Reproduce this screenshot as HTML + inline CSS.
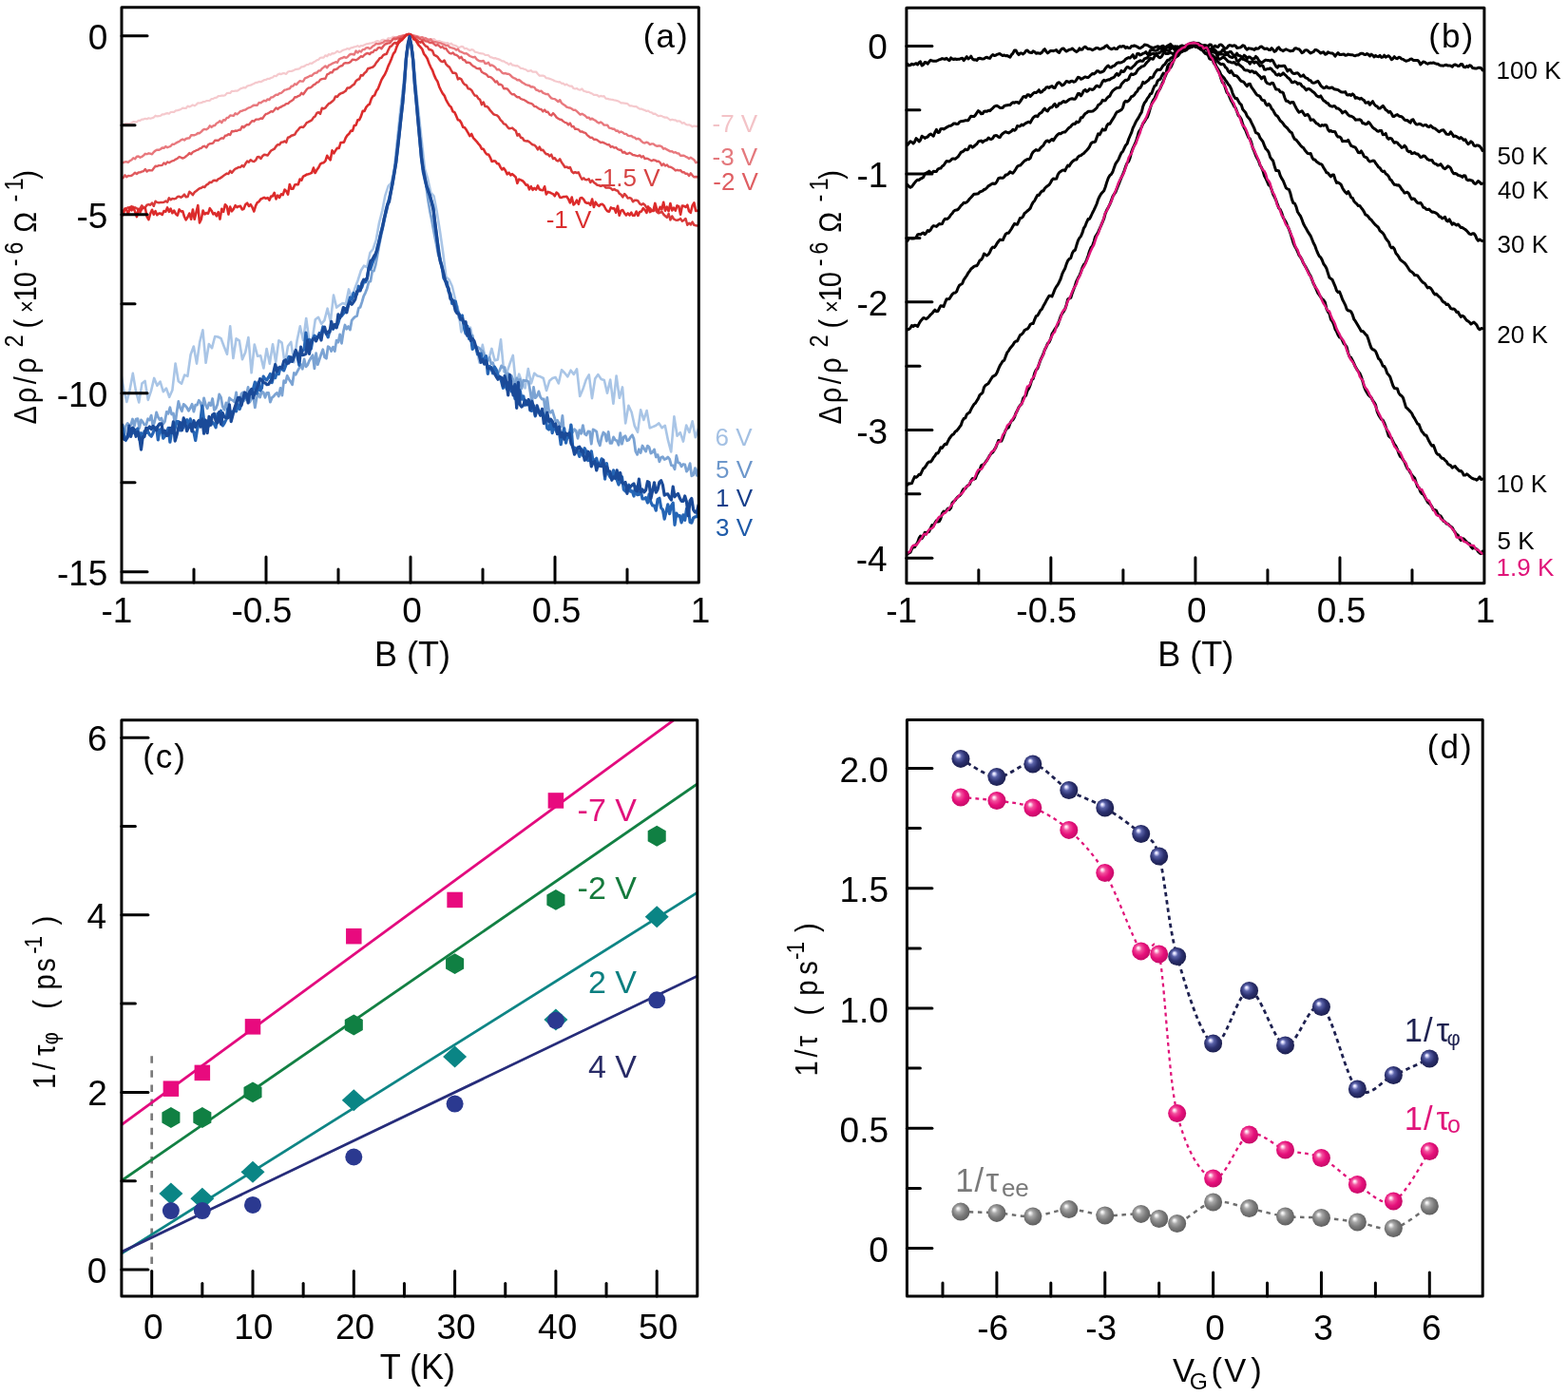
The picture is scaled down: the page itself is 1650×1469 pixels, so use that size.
<!DOCTYPE html>
<html><head><meta charset="utf-8"><title>Figure</title>
<style>html,body{margin:0;padding:0;background:#fff;overflow:hidden}svg{display:block}text{font-family:"Liberation Sans",Arial,sans-serif}</style></head>
<body><svg width="1650" height="1469" viewBox="0 0 1650 1469" font-family="Liberation Sans, Arial, sans-serif">
<rect width="1650" height="1469" fill="#fff"/>
<g id="pa">
<clipPath id="ca"><rect x="128" y="7.8" width="607.3" height="605.3000000000001"/></clipPath>
<g clip-path="url(#ca)">
<path d="M126 131 L127.8 131.3 L129.6 131.8 L131.4 130.3 L133.2 129.9 L134.9 130.2 L136.7 129.8 L138.5 129.2 L140.3 128.2 L142.1 128.4 L143.9 128.4 L145.7 126.8 L147.5 126.9 L149.2 125.6 L151 125.6 L152.8 124.8 L154.6 125.3 L156.4 124.3 L158.2 124.8 L160 124.2 L161.8 123.6 L163.6 121.7 L165.3 122.4 L167.1 122.2 L168.9 121.8 L170.7 120.3 L172.5 120.4 L174.3 119.6 L176.1 119.1 L177.9 119.7 L179.6 118 L181.4 117.9 L183.2 117.9 L185 116.4 L186.8 116.1 L188.6 115.6 L190.4 115 L192.2 113.6 L194 113.8 L195.7 114 L197.5 111.6 L199.3 112.5 L201.1 111.5 L202.9 110.4 L204.7 111.4 L206.5 110.1 L208.3 108.3 L210 108.5 L211.8 108.2 L213.6 107.2 L215.4 107.1 L217.2 106.1 L219 106 L220.8 105.8 L222.6 104 L224.4 103.9 L226.1 102.9 L227.9 102.6 L229.7 101.2 L231.5 101 L233.3 100.6 L235.1 100.7 L236.9 100.2 L238.7 98.1 L240.4 97.8 L242.2 98 L244 95.8 L245.8 96 L247.6 95.6 L249.4 95.7 L251.2 94.7 L253 93.4 L254.8 92.7 L256.5 92.1 L258.3 92.5 L260.1 90.6 L261.9 90 L263.7 89.7 L265.5 88.8 L267.3 88 L269.1 86.8 L270.8 86.8 L272.6 85.9 L274.4 86.2 L276.2 85.2 L278 84.2 L279.8 84 L281.6 82.8 L283.4 83 L285.2 81.8 L286.9 81.5 L288.7 79.8 L290.5 80.2 L292.3 78.4 L294.1 77.6 L295.9 78.1 L297.7 77.2 L299.5 77.2 L301.2 77.9 L303 75.5 L304.8 75 L306.6 74.9 L308.4 74.4 L310.2 73.4 L312 72.8 L313.8 72.7 L315.6 71.9 L317.3 70.3 L319.1 70.1 L320.9 69.4 L322.7 68 L324.5 68 L326.3 66.5 L328.1 66.8 L329.9 65.5 L331.6 64.6 L333.4 63.3 L335.2 62.8 L337 60.8 L338.8 60.5 L340.6 60.6 L342.4 58.3 L344.2 59.3 L346 57 L347.7 57.7 L349.5 56.1 L351.3 56.4 L353.1 55.4 L354.9 53.8 L356.7 54.9 L358.5 54.5 L360.3 53.1 L362 52.4 L363.8 52 L365.6 51 L367.4 51.8 L369.2 50.4 L371 50.2 L372.8 49.3 L374.6 49 L376.4 48.2 L378.1 49.3 L379.9 48 L381.7 48.3 L383.5 47.3 L385.3 46.4 L387.1 46.2 L388.9 45.6 L390.7 45.5 L392.4 44.9 L394.2 44.5 L396 43.4 L397.8 43.2 L399.6 44.3 L401.4 42.4 L403.2 41.7 L405 42.1 L406.8 42.3 L408.5 40.2 L410.3 40.5 L412.1 39.8 L413.9 38.7 L415.7 39.7 L417.5 38.9 L419.3 38.5 L421.1 37.8 L422.8 37.7 L424.6 37.1 L426.4 36.8 L428.2 36.3 L430 36 L431.8 36.5 L433.6 36.8 L435.4 37.3 L437.2 37.7 L438.9 37.9 L440.7 38.3 L442.5 39.2 L444.3 39.1 L446.1 39.6 L447.9 40.1 L449.7 41.2 L451.5 41.3 L453.2 41.4 L455 41.3 L456.8 41.1 L458.6 42.9 L460.4 43.3 L462.2 43 L464 43.8 L465.8 44.4 L467.6 44.9 L469.3 45.4 L471.1 45.1 L472.9 46.7 L474.7 45.6 L476.5 47.4 L478.3 47.7 L480.1 48.4 L481.9 49.6 L483.6 49.9 L485.4 48.9 L487.2 49.2 L489 51.3 L490.8 50.8 L492.6 52 L494.4 53.1 L496.2 52.2 L498 52.5 L499.7 54.6 L501.5 55 L503.3 55.5 L505.1 56.2 L506.9 56.3 L508.7 56.5 L510.5 57.9 L512.3 58 L514 58.2 L515.8 60.1 L517.6 60.4 L519.4 61.3 L521.2 61.1 L523 61.9 L524.8 62.4 L526.6 63.1 L528.4 64.4 L530.1 64.4 L531.9 65.7 L533.7 66.4 L535.5 68 L537.3 66.6 L539.1 68.6 L540.9 68.7 L542.7 69.4 L544.4 69.2 L546.2 70.4 L548 71.8 L549.8 72 L551.6 72.8 L553.4 73.2 L555.2 74.8 L557 74.7 L558.8 74.1 L560.5 75.7 L562.3 75.6 L564.1 75.5 L565.9 77.8 L567.7 79.6 L569.5 79.6 L571.3 79.5 L573.1 80.3 L574.8 82.2 L576.6 82.3 L578.4 82.9 L580.2 83.5 L582 84.2 L583.8 85.3 L585.6 85.8 L587.4 86.3 L589.2 86.2 L590.9 87.8 L592.7 87.7 L594.5 89.4 L596.3 88.6 L598.1 90 L599.9 90.7 L601.7 90.5 L603.5 93 L605.2 93.5 L607 93 L608.8 94.3 L610.6 94.7 L612.4 93.5 L614.2 95.8 L616 96.2 L617.8 96.9 L619.6 96.8 L621.3 97.9 L623.1 98.5 L624.9 99.9 L626.7 99.9 L628.5 100.2 L630.3 101.7 L632.1 100.9 L633.9 101.5 L635.6 101.2 L637.4 103.7 L639.2 103.9 L641 104.4 L642.8 104.7 L644.6 104.9 L646.4 105.5 L648.2 105.7 L650 106.3 L651.7 107 L653.5 108.4 L655.3 108.4 L657.1 108.6 L658.9 108.8 L660.7 109.4 L662.5 111.3 L664.3 111.3 L666 111.7 L667.8 112.1 L669.6 112.2 L671.4 113.5 L673.2 114.7 L675 114.6 L676.8 115.4 L678.6 116 L680.4 116.9 L682.1 116.5 L683.9 118 L685.7 118.3 L687.5 119.9 L689.3 119.6 L691.1 121 L692.9 122.2 L694.7 121.7 L696.4 122.1 L698.2 123.1 L700 123.6 L701.8 123.6 L703.6 125 L705.4 126.5 L707.2 125.7 L709 126.3 L710.8 126.3 L712.5 127.7 L714.3 127.3 L716.1 127.9 L717.9 129.8 L719.7 129 L721.5 130.8 L723.3 131.5 L725.1 131.3 L726.8 132 L728.6 133.3 L730.4 132.5 L732.2 132.8 L734 132.8" fill="none" stroke="#f5c9cd" stroke-width="2.2" stroke-linejoin="round" stroke-linecap="round" />
<path d="M126 172 L127.8 171.6 L129.6 171.2 L131.4 170.4 L133.2 170.3 L134.9 170.8 L136.7 169.2 L138.5 168.2 L140.3 166.2 L142.1 167.2 L143.9 164.7 L145.7 164.5 L147.5 165.7 L149.2 165 L151 163.6 L152.8 161.8 L154.6 162.2 L156.4 161.3 L158.2 161.7 L160 162.3 L161.8 160 L163.6 158.5 L165.3 157.6 L167.1 157.8 L168.9 157 L170.7 155.5 L172.5 155.8 L174.3 154.1 L176.1 155.2 L177.9 154.5 L179.6 153.8 L181.4 151.8 L183.2 151.9 L185 150.6 L186.8 149.6 L188.6 148.9 L190.4 147.4 L192.2 146.5 L194 147.5 L195.7 146 L197.5 145.5 L199.3 145.3 L201.1 142.3 L202.9 142.3 L204.7 142.2 L206.5 141.5 L208.3 140 L210 140.2 L211.8 138.7 L213.6 136.6 L215.4 135.9 L217.2 136.3 L219 135.1 L220.8 132.3 L222.6 133.9 L224.4 132.3 L226.1 132 L227.9 129.7 L229.7 128.8 L231.5 127.2 L233.3 129.2 L235.1 126.1 L236.9 126.6 L238.7 123.9 L240.4 123.7 L242.2 121.4 L244 121.6 L245.8 121.9 L247.6 119.3 L249.4 120.3 L251.2 118.9 L253 117 L254.8 116.7 L256.5 115.9 L258.3 115.5 L260.1 114.3 L261.9 113.3 L263.7 112.9 L265.5 111.6 L267.3 110.6 L269.1 110.8 L270.8 110.7 L272.6 107.9 L274.4 108.3 L276.2 106.9 L278 105.8 L279.8 106.4 L281.6 104.4 L283.4 105.1 L285.2 102.4 L286.9 102.4 L288.7 101 L290.5 99.6 L292.3 99.8 L294.1 98.2 L295.9 97.9 L297.7 96.4 L299.5 94.6 L301.2 94.4 L303 93.6 L304.8 93.3 L306.6 90.8 L308.4 90.6 L310.2 88.2 L312 89.1 L313.8 86.8 L315.6 85.2 L317.3 85.6 L319.1 85.5 L320.9 82.4 L322.7 81.7 L324.5 80.9 L326.3 79.6 L328.1 79.7 L329.9 77.7 L331.6 76.7 L333.4 76.6 L335.2 74.5 L337 74.4 L338.8 72.2 L340.6 70.9 L342.4 69.4 L344.2 71.3 L346 68.6 L347.7 68.1 L349.5 66.9 L351.3 66.2 L353.1 65.2 L354.9 65.8 L356.7 62.6 L358.5 61.4 L360.3 61 L362 59.9 L363.8 60.8 L365.6 60.1 L367.4 57.9 L369.2 56.9 L371 57 L372.8 57.6 L374.6 53.5 L376.4 55.5 L378.1 53.5 L379.9 54.5 L381.7 52.1 L383.5 52.1 L385.3 50.4 L387.1 50.1 L388.9 51.3 L390.7 50.2 L392.4 48.5 L394.2 47.4 L396 45.9 L397.8 46.4 L399.6 46 L401.4 45.3 L403.2 44.6 L405 43.1 L406.8 43.3 L408.5 42.6 L410.3 43.1 L412.1 42.9 L413.9 40.7 L415.7 39.6 L417.5 39.6 L419.3 38.7 L421.1 38.2 L422.8 38 L424.6 37.2 L426.4 37.1 L428.2 36.5 L430 36 L431.8 36.5 L433.6 36.9 L435.4 37.3 L437.2 38 L438.9 38.4 L440.7 39.3 L442.5 39.7 L444.3 39.2 L446.1 40.8 L447.9 40.2 L449.7 41.3 L451.5 42.1 L453.2 41.2 L455 43.5 L456.8 44 L458.6 44.3 L460.4 44.7 L462.2 45.3 L464 45.4 L465.8 46.5 L467.6 46.9 L469.3 48.1 L471.1 47.7 L472.9 49.5 L474.7 50.1 L476.5 50.6 L478.3 51.1 L480.1 52.6 L481.9 51.6 L483.6 54.1 L485.4 54.7 L487.2 55.5 L489 56.4 L490.8 56.3 L492.6 57.5 L494.4 59 L496.2 59.7 L498 60.3 L499.7 59.8 L501.5 62.2 L503.3 63.6 L505.1 64.3 L506.9 64.5 L508.7 63.9 L510.5 66.8 L512.3 66.8 L514 65.8 L515.8 69 L517.6 68.4 L519.4 69.5 L521.2 70.9 L523 73.4 L524.8 73 L526.6 74.4 L528.4 76.6 L530.1 77.4 L531.9 77 L533.7 77.8 L535.5 77.9 L537.3 79.3 L539.1 81.2 L540.9 82.1 L542.7 82.8 L544.4 84.4 L546.2 84 L548 85.5 L549.8 87 L551.6 87.9 L553.4 89.2 L555.2 89.6 L557 90 L558.8 91.5 L560.5 91.3 L562.3 91.8 L564.1 94.5 L565.9 95 L567.7 96.2 L569.5 95.6 L571.3 97.6 L573.1 98.4 L574.8 99.1 L576.6 98.9 L578.4 101.4 L580.2 103.4 L582 103.9 L583.8 104.1 L585.6 105.5 L587.4 107.1 L589.2 105.2 L590.9 108.3 L592.7 109.8 L594.5 110.9 L596.3 112.7 L598.1 113.2 L599.9 113.5 L601.7 114.5 L603.5 115.9 L605.2 115.8 L607 117.1 L608.8 118.8 L610.6 120.6 L612.4 119.8 L614.2 120.8 L616 122 L617.8 123.8 L619.6 123.6 L621.3 125.6 L623.1 124.6 L624.9 126 L626.7 126.9 L628.5 128.5 L630.3 129.6 L632.1 128.4 L633.9 129.7 L635.6 131.6 L637.4 131.6 L639.2 131.7 L641 134.6 L642.8 134.9 L644.6 135.7 L646.4 135.8 L648.2 137.8 L650 137.5 L651.7 139.4 L653.5 138.5 L655.3 139.3 L657.1 140.9 L658.9 140.9 L660.7 142.7 L662.5 143.1 L664.3 142.9 L666 144.3 L667.8 144.7 L669.6 146.4 L671.4 145.8 L673.2 146.6 L675 148.6 L676.8 150.1 L678.6 150.5 L680.4 149.6 L682.1 150.4 L683.9 152.1 L685.7 151.4 L687.5 151.4 L689.3 152.9 L691.1 153.8 L692.9 153.5 L694.7 153.5 L696.4 154.3 L698.2 156.7 L700 156.2 L701.8 157.4 L703.6 158.4 L705.4 159.4 L707.2 159.3 L709 160.6 L710.8 160.2 L712.5 161.3 L714.3 161.5 L716.1 163.9 L717.9 163.6 L719.7 163.8 L721.5 164.8 L723.3 165.6 L725.1 167 L726.8 165.8 L728.6 167 L730.4 168.2 L732.2 171.2 L734 170.7" fill="none" stroke="#e8787d" stroke-width="2.4" stroke-linejoin="round" stroke-linecap="round" />
<path d="M126 188.9 L127.8 187.5 L129.6 187.2 L131.4 184.3 L133.2 186.2 L134.9 185 L136.7 185.1 L138.5 184.8 L140.3 183.4 L142.1 181.7 L143.9 183 L145.7 181.5 L147.5 181.4 L149.2 180.6 L151 180.2 L152.8 177.9 L154.6 180.5 L156.4 179.1 L158.2 179.3 L160 179.4 L161.8 177.1 L163.6 174.8 L165.3 175 L167.1 174.1 L168.9 174.1 L170.7 173.9 L172.5 171.4 L174.3 172.8 L176.1 170.4 L177.9 171.3 L179.6 170.2 L181.4 169.3 L183.2 168.8 L185 167.6 L186.8 166.7 L188.6 165 L190.4 165.7 L192.2 166.6 L194 165.9 L195.7 164.5 L197.5 163.1 L199.3 161.1 L201.1 162.2 L202.9 160 L204.7 159.2 L206.5 158.2 L208.3 157.7 L210 156.4 L211.8 155.8 L213.6 154.1 L215.4 153.8 L217.2 155.3 L219 152.3 L220.8 151.3 L222.6 151.1 L224.4 150.3 L226.1 147.8 L227.9 147.7 L229.7 147.8 L231.5 146.3 L233.3 145.3 L235.1 145.7 L236.9 142.8 L238.7 142.5 L240.4 141.1 L242.2 142 L244 138 L245.8 138.3 L247.6 137.5 L249.4 137.7 L251.2 136.8 L253 136.6 L254.8 133 L256.5 134.2 L258.3 132.3 L260.1 131.1 L261.9 131.3 L263.7 129 L265.5 127.1 L267.3 127.7 L269.1 125.7 L270.8 125.6 L272.6 125.5 L274.4 124.5 L276.2 124.7 L278 122.1 L279.8 119.9 L281.6 119.6 L283.4 118.5 L285.2 117.2 L286.9 117.7 L288.7 115.7 L290.5 113.5 L292.3 114.9 L294.1 113.1 L295.9 112.5 L297.7 111.3 L299.5 110.7 L301.2 109.1 L303 109.1 L304.8 107.3 L306.6 106.2 L308.4 105.1 L310.2 102.3 L312 102.3 L313.8 101.1 L315.6 100.4 L317.3 97.8 L319.1 99.3 L320.9 96.7 L322.7 94.2 L324.5 92.5 L326.3 92.4 L328.1 91.3 L329.9 89.4 L331.6 88.7 L333.4 86.7 L335.2 86.4 L337 83.9 L338.8 83.2 L340.6 82.8 L342.4 82.9 L344.2 78.4 L346 77.6 L347.7 76.1 L349.5 76.4 L351.3 73.5 L353.1 73 L354.9 72.4 L356.7 70.5 L358.5 69.5 L360.3 69 L362 66.6 L363.8 66.3 L365.6 66.4 L367.4 66 L369.2 64.8 L371 62.6 L372.8 62.9 L374.6 63.2 L376.4 62.2 L378.1 60.8 L379.9 59.2 L381.7 59.8 L383.5 57.8 L385.3 56.5 L387.1 55.9 L388.9 57.1 L390.7 55.1 L392.4 55 L394.2 52.6 L396 52.9 L397.8 50.5 L399.6 49.9 L401.4 51.3 L403.2 48.7 L405 46.6 L406.8 46 L408.5 45.4 L410.3 45.2 L412.1 42.8 L413.9 40.8 L415.7 41.4 L417.5 40.8 L419.3 40.1 L421.1 40 L422.8 38.7 L424.6 38.2 L426.4 37 L428.2 36.7 L430 36 L431.8 36.8 L433.6 37.5 L435.4 38.2 L437.2 39.6 L438.9 39 L440.7 40.2 L442.5 41.3 L444.3 42.3 L446.1 42 L447.9 43.3 L449.7 43.5 L451.5 44.5 L453.2 45 L455 44.7 L456.8 46.4 L458.6 47.9 L460.4 47 L462.2 48.4 L464 50 L465.8 49.2 L467.6 51.2 L469.3 50.9 L471.1 53.8 L472.9 55.8 L474.7 56.5 L476.5 55.4 L478.3 57.3 L480.1 57.8 L481.9 58.9 L483.6 61.3 L485.4 59.8 L487.2 63 L489 63.2 L490.8 65.7 L492.6 65.7 L494.4 66.1 L496.2 68.1 L498 69.7 L499.7 70.3 L501.5 71.9 L503.3 72.2 L505.1 71.9 L506.9 75.8 L508.7 76.8 L510.5 77.6 L512.3 78.8 L514 80.9 L515.8 80.9 L517.6 82 L519.4 83.8 L521.2 86.4 L523 85.4 L524.8 89.1 L526.6 88.8 L528.4 89.7 L530.1 93.2 L531.9 93.2 L533.7 93.4 L535.5 95.5 L537.3 97.9 L539.1 99.4 L540.9 99.1 L542.7 101 L544.4 102.3 L546.2 102.1 L548 104 L549.8 104.7 L551.6 105.2 L553.4 106.2 L555.2 107.6 L557 108.4 L558.8 108.8 L560.5 109.8 L562.3 112.1 L564.1 112.1 L565.9 113.6 L567.7 114.7 L569.5 115 L571.3 117.4 L573.1 115.5 L574.8 117.9 L576.6 117.8 L578.4 120.7 L580.2 121.5 L582 119.1 L583.8 121 L585.6 123.5 L587.4 124.7 L589.2 125.7 L590.9 126 L592.7 127.6 L594.5 128.9 L596.3 129.3 L598.1 131.4 L599.9 129.6 L601.7 133.3 L603.5 132.9 L605.2 135.8 L607 135.8 L608.8 136.3 L610.6 138.5 L612.4 138.4 L614.2 139.4 L616 139.8 L617.8 142.1 L619.6 143.5 L621.3 144.9 L623.1 144.7 L624.9 146.7 L626.7 146.6 L628.5 147.3 L630.3 148.8 L632.1 150 L633.9 149.6 L635.6 150.4 L637.4 151.3 L639.2 152.3 L641 152.2 L642.8 154.7 L644.6 154.1 L646.4 155.6 L648.2 155.2 L650 157 L651.7 157.7 L653.5 157.7 L655.3 160.6 L657.1 159.8 L658.9 161.7 L660.7 161.7 L662.5 160.8 L664.3 161.7 L666 163.1 L667.8 163.3 L669.6 163.9 L671.4 164.2 L673.2 163.4 L675 165.4 L676.8 164.2 L678.6 167.1 L680.4 166.7 L682.1 167.2 L683.9 168.3 L685.7 169.3 L687.5 168.3 L689.3 168.6 L691.1 169.8 L692.9 169.6 L694.7 171.2 L696.4 174.1 L698.2 172.3 L700 174.5 L701.8 173.4 L703.6 175.5 L705.4 175.6 L707.2 176.5 L709 177.7 L710.8 179.5 L712.5 178.8 L714.3 179.4 L716.1 179.1 L717.9 181.2 L719.7 181.1 L721.5 182.8 L723.3 182.7 L725.1 185 L726.8 182.3 L728.6 184.6 L730.4 186.4 L732.2 186 L734 186.3" fill="none" stroke="#e05a5e" stroke-width="2.4" stroke-linejoin="round" stroke-linecap="round" />
<path d="M126 220.6 L127.8 222.2 L129.6 222 L131.4 220.3 L133.2 219.1 L134.9 218.3 L136.7 219.1 L138.5 217 L140.3 220.2 L142.1 218.3 L143.9 219.3 L145.7 220.6 L147.5 219.4 L149.2 216.3 L151 218.4 L152.8 218.3 L154.6 215.7 L156.4 215.1 L158.2 215.7 L160 213.5 L161.8 216.8 L163.6 211.7 L165.3 212.9 L167.1 213.4 L168.9 213 L170.7 213 L172.5 212.7 L174.3 211.6 L176.1 212.7 L177.9 208.3 L179.6 210.3 L181.4 208.9 L183.2 209.4 L185 208.9 L186.8 207 L188.6 206.7 L190.4 207.8 L192.2 206.6 L194 204.7 L195.7 207.3 L197.5 207 L199.3 201.8 L201.1 203.2 L202.9 205.2 L204.7 202.3 L206.5 200.9 L208.3 199.5 L210 198.2 L211.8 197.7 L213.6 196.4 L215.4 197 L217.2 194.6 L219 193.6 L220.8 191.7 L222.6 192 L224.4 190 L226.1 189.8 L227.9 190.3 L229.7 188.4 L231.5 187.6 L233.3 186.4 L235.1 185 L236.9 183.8 L238.7 182.6 L240.4 183 L242.2 179.8 L244 181.8 L245.8 179.4 L247.6 177.6 L249.4 177 L251.2 175.9 L253 176 L254.8 174.1 L256.5 175.5 L258.3 172.3 L260.1 169.6 L261.9 170.6 L263.7 168.2 L265.5 169.6 L267.3 170 L269.1 168.6 L270.8 165.2 L272.6 165 L274.4 167 L276.2 164.2 L278 162.8 L279.8 163 L281.6 163.6 L283.4 161 L285.2 158.5 L286.9 157.6 L288.7 156.7 L290.5 154 L292.3 152.2 L294.1 152.3 L295.9 149.8 L297.7 149.6 L299.5 148.5 L301.2 149.9 L303 144.7 L304.8 144.3 L306.6 142.8 L308.4 142.2 L310.2 141.6 L312 138.3 L313.8 136.6 L315.6 134.2 L317.3 133.6 L319.1 134 L320.9 131.9 L322.7 129.2 L324.5 128.4 L326.3 127.4 L328.1 126.4 L329.9 123.6 L331.6 122.4 L333.4 119 L335.2 118.2 L337 119.9 L338.8 113.8 L340.6 114.4 L342.4 113.4 L344.2 111.1 L346 109 L347.7 108.3 L349.5 106.8 L351.3 105.1 L353.1 101.4 L354.9 101.9 L356.7 99.6 L358.5 98.4 L360.3 97.8 L362 96.8 L363.8 95.6 L365.6 92.4 L367.4 92.6 L369.2 91.4 L371 89.8 L372.8 88.6 L374.6 85.2 L376.4 83.7 L378.1 83.3 L379.9 79.1 L381.7 79.5 L383.5 77 L385.3 75.6 L387.1 72.3 L388.9 71.7 L390.7 71.1 L392.4 70.5 L394.2 68.9 L396 65.8 L397.8 63.9 L399.6 61.2 L401.4 60.8 L403.2 58.1 L405 57.2 L406.8 56.7 L408.5 52.8 L410.3 49.2 L412.1 48.3 L413.9 46 L415.7 44.9 L417.5 46.1 L419.3 43.6 L421.1 41 L422.8 41.1 L424.6 40 L426.4 38.2 L428.2 37 L430 36 L431.8 37.1 L433.6 38.3 L435.4 39.7 L437.2 41 L438.9 42.3 L440.7 43.9 L442.5 44.7 L444.3 43.6 L446.1 46.5 L447.9 48.5 L449.7 49.1 L451.5 52.2 L453.2 52.3 L455 53.3 L456.8 57.8 L458.6 58.6 L460.4 59.8 L462.2 62.4 L464 64.3 L465.8 65.1 L467.6 63.5 L469.3 67.4 L471.1 69.4 L472.9 70.6 L474.7 73.8 L476.5 76.8 L478.3 76.7 L480.1 77.7 L481.9 83.4 L483.6 82.3 L485.4 83.3 L487.2 86.9 L489 89 L490.8 89.6 L492.6 93.3 L494.4 93.6 L496.2 94.9 L498 98.1 L499.7 100.6 L501.5 100.7 L503.3 103.7 L505.1 104.9 L506.9 110.1 L508.7 107.6 L510.5 111.9 L512.3 111.9 L514 113.5 L515.8 116.2 L517.6 118.1 L519.4 120.3 L521.2 120.9 L523 121.4 L524.8 123.2 L526.6 126.1 L528.4 127.8 L530.1 130.4 L531.9 130.8 L533.7 133.1 L535.5 135.2 L537.3 135.1 L539.1 134.6 L540.9 136.4 L542.7 137.5 L544.4 142.6 L546.2 141 L548 144.8 L549.8 145.3 L551.6 148 L553.4 148.4 L555.2 148.3 L557 149.4 L558.8 150.9 L560.5 152.2 L562.3 152.6 L564.1 154.3 L565.9 157.4 L567.7 154.6 L569.5 158.1 L571.3 157.8 L573.1 160.3 L574.8 162.2 L576.6 162.3 L578.4 164.4 L580.2 162.7 L582 167.1 L583.8 166.2 L585.6 168.9 L587.4 169.5 L589.2 167.4 L590.9 170.8 L592.7 173.2 L594.5 176 L596.3 175.6 L598.1 176.8 L599.9 176 L601.7 180.5 L603.5 182.2 L605.2 181.2 L607 182 L608.8 181.4 L610.6 185.5 L612.4 188.7 L614.2 187.4 L616 189.1 L617.8 189.2 L619.6 188.3 L621.3 192 L623.1 189.8 L624.9 191.9 L626.7 193.3 L628.5 194.8 L630.3 195 L632.1 195.8 L633.9 195.2 L635.6 195.3 L637.4 197.6 L639.2 197.4 L641 197.4 L642.8 198.2 L644.6 199.9 L646.4 199 L648.2 200.3 L650 200.7 L651.7 203.6 L653.5 204.7 L655.3 207.4 L657.1 204 L658.9 205.8 L660.7 208.6 L662.5 208.1 L664.3 208.9 L666 212.3 L667.8 210.7 L669.6 210.7 L671.4 211.5 L673.2 214.4 L675 215.4 L676.8 214.3 L678.6 215.7 L680.4 218.5 L682.1 219.5 L683.9 218.9 L685.7 221.3 L687.5 222.1 L689.3 220.1 L691.1 222.7 L692.9 224.3 L694.7 223.8 L696.4 222.6 L698.2 225.5 L700 227.3 L701.8 228.9 L703.6 225 L705.4 231.4 L707.2 227.5 L709 230.5 L710.8 231.4 L712.5 231.7 L714.3 231.2 L716.1 230.1 L717.9 232.8 L719.7 231.7 L721.5 230 L723.3 236.8 L725.1 234.7 L726.8 236.5 L728.6 233.6 L730.4 236.8 L732.2 237.3 L734 237.6" fill="none" stroke="#d93a3a" stroke-width="2.5" stroke-linejoin="round" stroke-linecap="round" />
<path d="M126 226.4 L127.8 221.9 L129.6 226.2 L131.4 219.5 L133.2 221.1 L134.9 225.3 L136.7 218.1 L138.5 221.4 L140.3 217.9 L142.1 222.9 L143.9 228.1 L145.7 220.1 L147.5 223.5 L149.2 219.7 L151 218.9 L152.8 218.7 L154.6 227.9 L156.4 231.1 L158.2 224.8 L160 220.8 L161.8 225.7 L163.6 222.2 L165.3 226.2 L167.1 224.6 L168.9 224.6 L170.7 225.9 L172.5 222 L174.3 222.7 L176.1 218.4 L177.9 222.8 L179.6 219.7 L181.4 224.2 L183.2 221.5 L185 225.3 L186.8 226.6 L188.6 220.4 L190.4 222.5 L192.2 222.2 L194 228 L195.7 231.4 L197.5 228.5 L199.3 224.5 L201.1 230.7 L202.9 220.5 L204.7 230.8 L206.5 223.4 L208.3 216.1 L210 234.4 L211.8 230.6 L213.6 221.6 L215.4 225.5 L217.2 224 L219 224.8 L220.8 219.2 L222.6 221.7 L224.4 225.3 L226.1 224.2 L227.9 227.3 L229.7 223.2 L231.5 230.6 L233.3 219.9 L235.1 222.9 L236.9 215.2 L238.7 217.2 L240.4 225.6 L242.2 217.6 L244 222.3 L245.8 219.9 L247.6 216.2 L249.4 218.2 L251.2 217.2 L253 216.9 L254.8 220.5 L256.5 219.7 L258.3 215.2 L260.1 213.7 L261.9 217 L263.7 215.2 L265.5 218.2 L267.3 222.5 L269.1 216.4 L270.8 213.1 L272.6 212.1 L274.4 209.5 L276.2 208.7 L278 207.8 L279.8 208.9 L281.6 208.1 L283.4 210.6 L285.2 206.6 L286.9 206.4 L288.7 202.8 L290.5 209.5 L292.3 205.6 L294.1 207.9 L295.9 204.3 L297.7 205.1 L299.5 199.6 L301.2 201 L303 204.7 L304.8 194 L306.6 198.7 L308.4 198.7 L310.2 194.5 L312 194.1 L313.8 194.1 L315.6 188.5 L317.3 189.7 L319.1 185.6 L320.9 184.8 L322.7 183.6 L324.5 183.3 L326.3 182.6 L328.1 181.8 L329.9 176.6 L331.6 182 L333.4 178.8 L335.2 176.4 L337 172.7 L338.8 171.6 L340.6 171.2 L342.4 169.3 L344.2 163.8 L346 166.4 L347.7 168.3 L349.5 158.4 L351.3 161.3 L353.1 158.4 L354.9 155.7 L356.7 156 L358.5 150 L360.3 149.9 L362 149.6 L363.8 145 L365.6 142.3 L367.4 140.7 L369.2 137.6 L371 137.7 L372.8 132 L374.6 131.7 L376.4 126.4 L378.1 126.1 L379.9 122.4 L381.7 116.8 L383.5 116.9 L385.3 112.9 L387.1 110.7 L388.9 109.7 L390.7 104.1 L392.4 101.1 L394.2 100.3 L396 95.7 L397.8 93.4 L399.6 88.8 L401.4 84.1 L403.2 81 L405 78.3 L406.8 74.2 L408.5 69.6 L410.3 65.8 L412.1 61.4 L413.9 56.6 L415.7 54.4 L417.5 49.1 L419.3 45.3 L421.1 43.5 L422.8 42.3 L424.6 40.2 L426.4 37.9 L428.2 36.2 L430 36 L431.8 36 L433.6 37.8 L435.4 41.3 L437.2 42.1 L438.9 44.8 L440.7 47.7 L442.5 49.6 L444.3 51.8 L446.1 56.7 L447.9 58.9 L449.7 61.8 L451.5 66.7 L453.2 70.6 L455 73.8 L456.8 78.9 L458.6 82.9 L460.4 85.7 L462.2 91.2 L464 95 L465.8 98.4 L467.6 100.6 L469.3 104.8 L471.1 108.1 L472.9 111.1 L474.7 112.7 L476.5 117.3 L478.3 118.1 L480.1 121.9 L481.9 126.2 L483.6 126.5 L485.4 129.3 L487.2 133.7 L489 134.3 L490.8 136.8 L492.6 139.8 L494.4 143.2 L496.2 141 L498 145.1 L499.7 146.9 L501.5 148.8 L503.3 151.1 L505.1 153.1 L506.9 156.7 L508.7 156.8 L510.5 160.2 L512.3 162.5 L514 162.5 L515.8 165.6 L517.6 169.9 L519.4 169.4 L521.2 169.5 L523 172.1 L524.8 172.2 L526.6 175.9 L528.4 178.5 L530.1 176.9 L531.9 179.5 L533.7 183.4 L535.5 181.7 L537.3 184.3 L539.1 183.1 L540.9 184.7 L542.7 186.4 L544.4 192.8 L546.2 188.6 L548 189.4 L549.8 190.2 L551.6 192 L553.4 194.6 L555.2 194.5 L557 199.4 L558.8 196.2 L560.5 199.8 L562.3 197.9 L564.1 199.5 L565.9 195.4 L567.7 199.2 L569.5 200 L571.3 200.3 L573.1 196.3 L574.8 204.4 L576.6 201.9 L578.4 202.4 L580.2 203.4 L582 204.1 L583.8 206.3 L585.6 202.6 L587.4 204 L589.2 207.8 L590.9 207.9 L592.7 207.1 L594.5 207 L596.3 206.8 L598.1 209.4 L599.9 213.4 L601.7 207.6 L603.5 215.4 L605.2 214 L607 210.7 L608.8 214.8 L610.6 208.5 L612.4 208.1 L614.2 209.9 L616 213 L617.8 213.7 L619.6 213.5 L621.3 215.8 L623.1 209.6 L624.9 218 L626.7 212.7 L628.5 215.5 L630.3 216.8 L632.1 215 L633.9 214.9 L635.6 216.5 L637.4 220 L639.2 222.3 L641 222.7 L642.8 218.4 L644.6 219.4 L646.4 219.4 L648.2 223.8 L650 216.7 L651.7 226.7 L653.5 221.7 L655.3 221 L657.1 224.4 L658.9 226.5 L660.7 224.4 L662.5 226.5 L664.3 223.6 L666 226.8 L667.8 226.7 L669.6 222.5 L671.4 226.9 L673.2 222.9 L675 222.5 L676.8 219.2 L678.6 220.9 L680.4 223.9 L682.1 217.4 L683.9 223.1 L685.7 222 L687.5 221.5 L689.3 213.9 L691.1 220.1 L692.9 222.2 L694.7 217.8 L696.4 220.2 L698.2 212.7 L700 221.8 L701.8 217.7 L703.6 222.2 L705.4 214 L707.2 221.5 L709 218.6 L710.8 221.7 L712.5 216.4 L714.3 217.2 L716.1 225.7 L717.9 216.5 L719.7 216.8 L721.5 218 L723.3 215.7 L725.1 222.3 L726.8 223.8 L728.6 216.5 L730.4 213.4 L732.2 222 L734 221.8" fill="none" stroke="#dc2b2b" stroke-width="2.6" stroke-linejoin="round" stroke-linecap="round" />
<path d="M127 391.3 L130.2 409.7 L133.4 422.9 L136.6 410.2 L139.8 392.9 L143 411.6 L146.2 423.5 L149.4 403.6 L152.6 400.9 L155.8 420.9 L159 411.4 L162.2 397.9 L165.4 405.8 L168.6 401.6 L171.8 412.2 L175 408.6 L178.2 417.8 L181.4 410.4 L184.6 382.5 L187.8 401.3 L191 403.7 L194.2 394.6 L197.4 395.8 L200.6 373.3 L203.8 364.5 L207 382.6 L210.2 359.9 L213.4 347.3 L216.6 381.8 L219.8 362.1 L223 366.3 L226.2 354 L229.4 354.5 L232.6 356.2 L235.8 364.8 L239 372.7 L242.2 343.3 L245.4 377 L248.6 356.3 L251.8 358.3 L255 378.3 L258.2 370.7 L261.4 355.1 L264.6 392.3 L267.8 362.5 L271 374.7 L274.2 374.2 L277.4 387.5 L280.6 367 L283.8 382.7 L287 362.3 L290.2 381.1 L293.4 358.3 L296.6 360.6 L299.8 383.5 L303 364.3 L306.2 359.9 L309.4 381.2 L312.6 358.3 L315.8 343.2 L319 358.1 L322.2 335 L325.4 358.5 L328.6 357.5 L331.8 336.2 L335 333.8 L338.2 340.8 L341.4 337.1 L344.6 324.7 L347.8 338.4 L351 310.6 L354.2 323.6 L357.4 321 L360.6 319 L363.8 320.3 L367 304.4 L370.2 313.9 L373.4 303.4 L376.6 295 L379.8 284.8 L383 279.7 L386.2 281.1 L389.4 266 L392.6 262 L395.8 252.3 L399 234.5 L402.2 222 L405.4 205.6 L408.6 195.9 L411.8 192.4 L415 176.2 L418.2 145.4 L421.4 114.8 L424.6 91.5 L427.8 55.8 L431 40.6 L434.2 55.3 L437.4 90.1 L440.6 119 L443.8 148.9 L447 177.9 L450.2 188.5 L453.4 203 L456.6 206.4 L459.8 223.5 L463 243.5 L466.2 265.7 L469.4 291.5 L472.6 294.3 L475.8 301.2 L479 314.8 L482.2 326 L485.4 349.4 L488.6 342.8 L491.8 354 L495 344.7 L498.2 360.1 L501.4 367.4 L504.6 381.7 L507.8 362.9 L511 378.3 L514.2 378.3 L517.4 366.9 L520.6 379.3 L523.8 378.4 L527 357.4 L530.2 391.1 L533.4 391.9 L536.6 382.5 L539.8 373.9 L543 406 L546.2 393.7 L549.4 403 L552.6 408.3 L555.8 388 L559 403.5 L562.2 392.8 L565.4 395.6 L568.6 396.3 L571.8 398 L575 411 L578.2 400.8 L581.4 398.1 L584.6 397 L587.8 403.5 L591 389.2 L594.2 392.5 L597.4 396.3 L600.6 389.7 L603.8 393.9 L607 388.3 L610.2 417 L613.4 409.6 L616.6 399.9 L619.8 394.4 L623 419.1 L626.2 398.6 L629.4 394.1 L632.6 399 L635.8 400 L639 413.6 L642.2 399.6 L645.4 424.8 L648.6 395.5 L651.8 418.8 L655 407.4 L658.2 445.4 L661.4 426.9 L664.6 433.8 L667.8 448.1 L671 454.8 L674.2 431.4 L677.4 441.9 L680.6 432.1 L683.8 450.4 L687 449.1 L690.2 447.7 L693.4 445.4 L696.6 450.2 L699.8 447.8 L703 463.4 L706.2 475.5 L709.4 438.4 L712.6 458.7 L715.8 455.2 L719 464.6 L722.2 447.6 L725.4 455 L728.6 443.3 L731.8 460.2 L735 450.9" fill="none" stroke="#a9c5e6" stroke-width="2.6" stroke-linejoin="round" stroke-linecap="round" />
<path d="M127 450.7 L128.8 461.5 L130.6 460.1 L132.4 448.4 L134.2 445.4 L135.9 447.3 L137.7 447.2 L139.5 441 L141.3 448.3 L143.1 441 L144.9 440.6 L146.7 450.5 L148.5 441.8 L150.2 444.1 L152 446.9 L153.8 447.2 L155.6 440.8 L157.4 442 L159.2 437.1 L161 449.3 L162.8 443.2 L164.6 433.9 L166.3 438.8 L168.1 441.8 L169.9 440.1 L171.7 446.3 L173.5 443.5 L175.3 433.5 L177.1 435.2 L178.9 428.8 L180.6 436 L182.4 435 L184.2 447.3 L186 433.9 L187.8 422.5 L189.6 429.2 L191.4 432.7 L193.2 425.4 L195 426.9 L196.7 429 L198.5 432.2 L200.3 429.2 L202.1 425.2 L203.9 433.2 L205.7 426.2 L207.5 426 L209.3 421.2 L211 423.7 L212.8 430.6 L214.6 418.8 L216.4 426.2 L218.2 429.8 L220 423.9 L221.8 426.6 L223.6 419.5 L225.4 431.3 L227.1 429.9 L228.9 425.2 L230.7 414.9 L232.5 418.1 L234.3 427.9 L236.1 431.3 L237.9 423.9 L239.7 428.3 L241.4 418.7 L243.2 420.5 L245 421.2 L246.8 423 L248.6 413 L250.4 425.1 L252.2 426.8 L254 414.3 L255.8 413 L257.5 421.4 L259.3 416.1 L261.1 407.4 L262.9 423 L264.7 419.6 L266.5 416.2 L268.3 428.9 L270.1 418.8 L271.8 414 L273.6 418 L275.4 412 L277.2 413 L279 418.4 L280.8 413.3 L282.6 413.3 L284.4 423.2 L286.2 418.4 L287.9 417.2 L289.7 414.8 L291.5 413.4 L293.3 417 L295.1 408.3 L296.9 416.2 L298.7 400.7 L300.5 402.6 L302.2 395.4 L304 399 L305.8 401.6 L307.6 404.7 L309.4 392.4 L311.2 394.2 L313 390.7 L314.8 387.3 L316.6 383.5 L318.3 388.3 L320.1 378 L321.9 385.9 L323.7 384.1 L325.5 379.5 L327.3 376.6 L329.1 373.6 L330.9 387.9 L332.6 371.6 L334.4 383.7 L336.2 378 L338 372.5 L339.8 367.7 L341.6 375.9 L343.4 377.2 L345.2 364.7 L347 365.9 L348.7 369.6 L350.5 365.1 L352.3 369.6 L354.1 358.1 L355.9 360.2 L357.7 351.8 L359.5 361.3 L361.3 349.2 L363 342 L364.8 346.3 L366.6 343.6 L368.4 347 L370.2 337.1 L372 334.9 L373.8 333.3 L375.6 332.5 L377.4 324.3 L379.1 323.3 L380.9 317.9 L382.7 311.6 L384.5 308.1 L386.3 303.4 L388.1 296.5 L389.9 296.1 L391.7 285.4 L393.4 285.1 L395.2 278.9 L397 269.5 L398.8 259.2 L400.6 250.2 L402.4 241.8 L404.2 233.7 L406 225 L407.8 218.2 L409.5 208.2 L411.3 200.6 L413.1 189.1 L414.9 180.7 L416.7 166 L418.5 148.5 L420.3 132.6 L422.1 116.3 L423.8 97.3 L425.6 80.2 L427.4 58 L429.2 48 L431 42 L432.8 46.4 L434.6 59.5 L436.4 79.5 L438.2 101.6 L439.9 120.7 L441.7 139.7 L443.5 155.6 L445.3 174.5 L447.1 185.5 L448.9 199.2 L450.7 212 L452.5 222.6 L454.2 230.8 L456 240.8 L457.8 250.2 L459.6 259.2 L461.4 269 L463.2 271.9 L465 281.6 L466.8 288.2 L468.6 294.1 L470.3 299.6 L472.1 307.3 L473.9 310.2 L475.7 316 L477.5 319.9 L479.3 327.3 L481.1 322.3 L482.9 334.3 L484.6 334 L486.4 337.5 L488.2 338.9 L490 339.6 L491.8 347.2 L493.6 349.5 L495.4 356.2 L497.2 352.9 L499 365.4 L500.7 364.4 L502.5 365.3 L504.3 366.2 L506.1 368.4 L507.9 369.5 L509.7 373.9 L511.5 378.1 L513.3 379.4 L515 376.3 L516.8 382.7 L518.6 381.7 L520.4 387.7 L522.2 396.5 L524 392.6 L525.8 389.7 L527.6 384.9 L529.4 386.9 L531.1 386.6 L532.9 399.1 L534.7 392.9 L536.5 398 L538.3 395.5 L540.1 400 L541.9 407.5 L543.7 398 L545.4 400.7 L547.2 399.3 L549 408.7 L550.8 400.2 L552.6 400.7 L554.4 400.6 L556.2 401.6 L558 412.2 L559.8 424 L561.5 407.5 L563.3 418.7 L565.1 416.8 L566.9 411.9 L568.7 417.9 L570.5 420.2 L572.3 420 L574.1 435.3 L575.8 418.4 L577.6 432.1 L579.4 434.2 L581.2 431.9 L583 437.9 L584.8 443.8 L586.6 442.3 L588.4 445.8 L590.2 449.1 L591.9 437.4 L593.7 456.7 L595.5 462.3 L597.3 457.2 L599.1 458.6 L600.9 447.5 L602.7 454.8 L604.5 451.8 L606.2 453.3 L608 461.3 L609.8 452.7 L611.6 456.3 L613.4 447.6 L615.2 456.5 L617 457.9 L618.8 454 L620.6 454.1 L622.3 467.2 L624.1 451.9 L625.9 452.8 L627.7 454.1 L629.5 464.2 L631.3 468.8 L633.1 460.1 L634.9 455 L636.6 456.5 L638.4 464.1 L640.2 454.4 L642 466.4 L643.8 466.4 L645.6 459.9 L647.4 463 L649.2 463.8 L651 468.2 L652.7 455.6 L654.5 467.2 L656.3 460 L658.1 458.7 L659.9 463.8 L661.7 463 L663.5 459.9 L665.3 457.8 L667 461.9 L668.8 474.8 L670.6 478.4 L672.4 472.8 L674.2 476.5 L676 469 L677.8 472.2 L679.6 475 L681.4 469.1 L683.1 470.6 L684.9 477 L686.7 475.8 L688.5 473 L690.3 481 L692.1 478.6 L693.9 485.8 L695.7 481.4 L697.4 480.7 L699.2 483.5 L701 482.8 L702.8 481 L704.6 483.1 L706.4 489.6 L708.2 489.8 L710 493.7 L711.8 479.5 L713.5 486.7 L715.3 487.3 L717.1 490.9 L718.9 488.5 L720.7 488.9 L722.5 496.1 L724.3 493.7 L726.1 487.7 L727.8 500.8 L729.6 499.8 L731.4 492.6 L733.2 500.3 L735 493.1" fill="none" stroke="#7ba3d3" stroke-width="2.8" stroke-linejoin="round" stroke-linecap="round" />
<path d="M127 458.2 L128.8 447.1 L130.6 458.7 L132.4 463.5 L134.2 458.6 L135.9 454.8 L137.7 455.8 L139.5 455.9 L141.3 453.4 L143.1 453.1 L144.9 451 L146.7 462.5 L148.5 455.7 L150.2 460.8 L152 454 L153.8 455.6 L155.6 454.1 L157.4 457.4 L159.2 459.2 L161 455.7 L162.8 450.5 L164.6 449.7 L166.3 462.9 L168.1 452 L169.9 451.7 L171.7 461.2 L173.5 458.9 L175.3 455.6 L177.1 450.3 L178.9 465.2 L180.6 454.2 L182.4 454.8 L184.2 450.6 L186 443.5 L187.8 443.7 L189.6 453 L191.4 452.6 L193.2 448.9 L195 443.4 L196.7 441.7 L198.5 447.5 L200.3 440.9 L202.1 453.5 L203.9 454.6 L205.7 463.4 L207.5 452.3 L209.3 443.8 L211 441.9 L212.8 427.2 L214.6 442.5 L216.4 444.3 L218.2 450.1 L220 447.6 L221.8 447 L223.6 444.3 L225.4 446.2 L227.1 449.9 L228.9 435.4 L230.7 438.1 L232.5 432.2 L234.3 448 L236.1 445.4 L237.9 441.6 L239.7 430 L241.4 436.6 L243.2 433.4 L245 433.9 L246.8 430.8 L248.6 432.9 L250.4 425.8 L252.2 430.5 L254 424.9 L255.8 419.8 L257.5 418.6 L259.3 414.8 L261.1 419.9 L262.9 412.4 L264.7 414.2 L266.5 409.2 L268.3 402.1 L270.1 414.2 L271.8 402.4 L273.6 411 L275.4 408.5 L277.2 396 L279 398.8 L280.8 399.9 L282.6 396.9 L284.4 393.5 L286.2 402.6 L287.9 395.7 L289.7 397.5 L291.5 391.3 L293.3 393.7 L295.1 386.2 L296.9 388.4 L298.7 389.9 L300.5 385.2 L302.2 380.6 L304 375.3 L305.8 380.4 L307.6 379.6 L309.4 374.5 L311.2 369.9 L313 375.3 L314.8 384.3 L316.6 367.3 L318.3 369.1 L320.1 367.8 L321.9 350.1 L323.7 363.4 L325.5 357.4 L327.3 367.3 L329.1 357.2 L330.9 353.1 L332.6 354.7 L334.4 355.3 L336.2 350.4 L338 351.5 L339.8 344 L341.6 347.9 L343.4 351.1 L345.2 354.9 L347 347.6 L348.7 344.1 L350.5 346.3 L352.3 343.7 L354.1 344.4 L355.9 340 L357.7 333.3 L359.5 332.6 L361.3 330.1 L363 328.3 L364.8 325.6 L366.6 319.9 L368.4 313 L370.2 315.3 L372 308.4 L373.8 312.2 L375.6 309.1 L377.4 301.2 L379.1 304.8 L380.9 301.9 L382.7 296.4 L384.5 296.8 L386.3 293.4 L388.1 282 L389.9 283.1 L391.7 277.5 L393.4 272.9 L395.2 269.3 L397 260.4 L398.8 254 L400.6 246.1 L402.4 238.3 L404.2 231.3 L406 221.5 L407.8 214.8 L409.5 209.8 L411.3 201.4 L413.1 193.5 L414.9 181.5 L416.7 171 L418.5 156.2 L420.3 140.2 L422.1 122.8 L423.8 107.9 L425.6 87.4 L427.4 62.3 L429.2 47.7 L431 40.2 L432.8 47.3 L434.6 63.4 L436.4 87.8 L438.2 108.1 L439.9 126.3 L441.7 146.9 L443.5 167 L445.3 181 L447.1 189 L448.9 195.8 L450.7 200.2 L452.5 207 L454.2 212 L456 218.4 L457.8 236.8 L459.6 249.6 L461.4 261.3 L463.2 273.7 L465 279.7 L466.8 292.4 L468.6 295.5 L470.3 296.7 L472.1 306.6 L473.9 309.3 L475.7 319.5 L477.5 316.4 L479.3 317.2 L481.1 327.2 L482.9 329.9 L484.6 333.4 L486.4 332 L488.2 343.4 L490 351 L491.8 343 L493.6 356.6 L495.4 354.1 L497.2 367.5 L499 364 L500.7 364.9 L502.5 372.7 L504.3 373.5 L506.1 371.9 L507.9 379.8 L509.7 377.5 L511.5 374.6 L513.3 393.3 L515 385.4 L516.8 386.4 L518.6 392.8 L520.4 386.1 L522.2 388.9 L524 394.8 L525.8 396.6 L527.6 401.3 L529.4 408.4 L531.1 401.9 L532.9 408.6 L534.7 410.8 L536.5 403.3 L538.3 412 L540.1 407 L541.9 419.6 L543.7 417.7 L545.4 416.7 L547.2 410.7 L549 420.2 L550.8 416.8 L552.6 426.3 L554.4 423.2 L556.2 420.9 L558 432 L559.8 432.4 L561.5 426.7 L563.3 437.9 L565.1 431.4 L566.9 432.9 L568.7 436.9 L570.5 433.6 L572.3 436.8 L574.1 439.9 L575.8 450.7 L577.6 452.1 L579.4 443.9 L581.2 455.7 L583 448.1 L584.8 452 L586.6 456.3 L588.4 454.5 L590.2 467.7 L591.9 457.3 L593.7 450.8 L595.5 466.1 L597.3 458.2 L599.1 460.3 L600.9 447 L602.7 470.5 L604.5 471 L606.2 472.4 L608 474.9 L609.8 480.4 L611.6 472.4 L613.4 479.4 L615.2 471.7 L617 475.4 L618.8 484.7 L620.6 482.7 L622.3 474.8 L624.1 485.6 L625.9 484.2 L627.7 482.3 L629.5 490.7 L631.3 487.7 L633.1 482.8 L634.9 486.8 L636.6 504.2 L638.4 487.6 L640.2 498.6 L642 502.1 L643.8 503.7 L645.6 494.8 L647.4 501.1 L649.2 505 L651 510 L652.7 503.3 L654.5 501.8 L656.3 515.1 L658.1 517 L659.9 514.3 L661.7 510.2 L663.5 517.2 L665.3 516.8 L667 522.1 L668.8 511.9 L670.6 520.7 L672.4 520.4 L674.2 516.4 L676 524.8 L677.8 525 L679.6 523.6 L681.4 529.1 L683.1 520.1 L684.9 528.5 L686.7 532 L688.5 532 L690.3 537.2 L692.1 525.3 L693.9 524.3 L695.7 534.5 L697.4 536.3 L699.2 546.1 L701 538.4 L702.8 530.8 L704.6 540.7 L706.4 532.2 L708.2 529.2 L710 552.3 L711.8 540.2 L713.5 542.9 L715.3 542.5 L717.1 549.9 L718.9 541.9 L720.7 547.4 L722.5 535.5 L724.3 533.8 L726.1 549.6 L727.8 550.2 L729.6 545.1 L731.4 543.8 L733.2 543.7 L735 539.1" fill="none" stroke="#2565b5" stroke-width="3.2" stroke-linejoin="round" stroke-linecap="round" />
<path d="M127 454.8 L128.8 456.8 L130.6 462.3 L132.4 462.5 L134.2 460.5 L135.9 448 L137.7 459.5 L139.5 450.1 L141.3 451.9 L143.1 459.3 L144.9 454.5 L146.7 460.4 L148.5 473.1 L150.2 459.9 L152 459.4 L153.8 450.3 L155.6 451.5 L157.4 449 L159.2 451.7 L161 448.4 L162.8 450.6 L164.6 452.8 L166.3 448.3 L168.1 445.8 L169.9 445.9 L171.7 455.6 L173.5 453.2 L175.3 458.3 L177.1 458.2 L178.9 450.4 L180.6 455.7 L182.4 443.8 L184.2 464.1 L186 457.8 L187.8 449.8 L189.6 444.4 L191.4 452.6 L193.2 439.9 L195 445.6 L196.7 453.7 L198.5 449.7 L200.3 446.2 L202.1 453.8 L203.9 442.5 L205.7 449.4 L207.5 444.7 L209.3 442.4 L211 449.2 L212.8 440.8 L214.6 456.2 L216.4 442.1 L218.2 455.7 L220 438.3 L221.8 447.1 L223.6 436.6 L225.4 435.2 L227.1 442.8 L228.9 445 L230.7 433.6 L232.5 446.4 L234.3 434.7 L236.1 439 L237.9 439.5 L239.7 439.8 L241.4 425.8 L243.2 443.6 L245 436.5 L246.8 429.5 L248.6 424.4 L250.4 418.7 L252.2 418.4 L254 426.6 L255.8 419.5 L257.5 413 L259.3 414.3 L261.1 424 L262.9 412.1 L264.7 409.4 L266.5 418.8 L268.3 412.8 L270.1 409.5 L271.8 404.9 L273.6 398.7 L275.4 399.8 L277.2 402.5 L279 402.8 L280.8 404.7 L282.6 404.5 L284.4 401.2 L286.2 399.7 L287.9 391.4 L289.7 383.5 L291.5 390.9 L293.3 386.8 L295.1 386.7 L296.9 387 L298.7 379.9 L300.5 378.8 L302.2 382.6 L304 381.9 L305.8 375.9 L307.6 380.4 L309.4 374.7 L311.2 368.5 L313 372.6 L314.8 381 L316.6 365.2 L318.3 373.7 L320.1 373.3 L321.9 372.4 L323.7 358.2 L325.5 372.3 L327.3 360.5 L329.1 357.2 L330.9 356 L332.6 358.9 L334.4 354.7 L336.2 352.3 L338 358 L339.8 347 L341.6 344.1 L343.4 351.2 L345.2 349.2 L347 349.3 L348.7 338.3 L350.5 345.8 L352.3 341.5 L354.1 344.8 L355.9 330.8 L357.7 334.6 L359.5 330.6 L361.3 323.6 L363 324.7 L364.8 328.9 L366.6 320.9 L368.4 317.7 L370.2 320.3 L372 317.9 L373.8 315 L375.6 306.7 L377.4 305.9 L379.1 305.8 L380.9 297.8 L382.7 294.2 L384.5 294.6 L386.3 292.6 L388.1 282.1 L389.9 274.8 L391.7 273.3 L393.4 269.9 L395.2 267.1 L397 263 L398.8 254.8 L400.6 246.3 L402.4 239.8 L404.2 229.9 L406 223.6 L407.8 215.4 L409.5 212.5 L411.3 202.4 L413.1 192.1 L414.9 182.5 L416.7 171.3 L418.5 155.2 L420.3 139.4 L422.1 122.6 L423.8 107.9 L425.6 87.1 L427.4 61.5 L429.2 46.4 L431 38.3 L432.8 47.7 L434.6 62 L436.4 88.5 L438.2 107.3 L439.9 127.4 L441.7 146.7 L443.5 165.9 L445.3 178.1 L447.1 187.2 L448.9 195.7 L450.7 201.8 L452.5 205.7 L454.2 213.1 L456 220.9 L457.8 234.1 L459.6 248.3 L461.4 265 L463.2 274.7 L465 281 L466.8 287.5 L468.6 295.6 L470.3 300.8 L472.1 303.5 L473.9 314.3 L475.7 315.4 L477.5 319.1 L479.3 327 L481.1 329.8 L482.9 330.6 L484.6 336.2 L486.4 335.2 L488.2 340.1 L490 338.6 L491.8 353.2 L493.6 346.3 L495.4 358.4 L497.2 356.4 L499 358.9 L500.7 364.8 L502.5 369.5 L504.3 373.8 L506.1 381.3 L507.9 378.4 L509.7 383.2 L511.5 379.6 L513.3 387.6 L515 387.6 L516.8 387.1 L518.6 390.8 L520.4 393.1 L522.2 396.3 L524 399.2 L525.8 396.6 L527.6 397.2 L529.4 406.5 L531.1 395.6 L532.9 402.7 L534.7 415.9 L536.5 394.4 L538.3 406.9 L540.1 416 L541.9 404.6 L543.7 429.5 L545.4 402.4 L547.2 426 L549 428.1 L550.8 426 L552.6 421.2 L554.4 425.9 L556.2 420.4 L558 431.3 L559.8 422.2 L561.5 428.4 L563.3 437 L565.1 426.9 L566.9 432.6 L568.7 437.1 L570.5 430.3 L572.3 445.6 L574.1 442.6 L575.8 434 L577.6 443.6 L579.4 441.1 L581.2 443.2 L583 448.8 L584.8 446 L586.6 456.7 L588.4 449 L590.2 459.8 L591.9 455.7 L593.7 462.1 L595.5 456 L597.3 457.7 L599.1 455.6 L600.9 466.6 L602.7 470.1 L604.5 478.1 L606.2 475.1 L608 471 L609.8 470.1 L611.6 475 L613.4 474.4 L615.2 484.3 L617 483.2 L618.8 475.2 L620.6 477.8 L622.3 490.8 L624.1 486.7 L625.9 485.5 L627.7 495 L629.5 488 L631.3 490.2 L633.1 490.7 L634.9 484 L636.6 501 L638.4 491 L640.2 495.8 L642 496.1 L643.8 505.3 L645.6 502 L647.4 503.4 L649.2 494.9 L651 504.4 L652.7 497.5 L654.5 508 L656.3 508.9 L658.1 507.4 L659.9 519.3 L661.7 511.5 L663.5 512.3 L665.3 510.3 L667 508.9 L668.8 515.8 L670.6 516.9 L672.4 504.2 L674.2 517.6 L676 515 L677.8 517.9 L679.6 515.7 L681.4 506.7 L683.1 507.6 L684.9 524.6 L686.7 516.5 L688.5 507.9 L690.3 518.2 L692.1 514.9 L693.9 507.4 L695.7 505.7 L697.4 510.2 L699.2 521.2 L701 520.2 L702.8 519.9 L704.6 523.6 L706.4 526.1 L708.2 512.1 L710 522.8 L711.8 520.8 L713.5 519.4 L715.3 524.1 L717.1 527.3 L718.9 527.5 L720.7 521.9 L722.5 528.2 L724.3 542.9 L726.1 527 L727.8 524.5 L729.6 536.3 L731.4 539 L733.2 539.3 L735 531.7" fill="none" stroke="#1a4a98" stroke-width="3.2" stroke-linejoin="round" stroke-linecap="round" />
</g>
<rect x="128" y="7.8" width="607.3" height="605.3" fill="none" stroke="#000" stroke-width="3" stroke-linejoin="round"/>
<line x1="128" y1="37.8" x2="155" y2="37.8" stroke="#000" stroke-width="3" stroke-linecap="round"/>
<text x="92.67" y="51.8" font-size="37" fill="#000" >0</text>
<line x1="128" y1="225.8" x2="155" y2="225.8" stroke="#000" stroke-width="3" stroke-linecap="round"/>
<text x="80.45" y="239.8" font-size="37" fill="#000" >-5</text>
<line x1="128" y1="413.8" x2="155" y2="413.8" stroke="#000" stroke-width="3" stroke-linecap="round"/>
<text x="59.77" y="427.8" font-size="37" fill="#000" >-10</text>
<line x1="128" y1="601.8" x2="155" y2="601.8" stroke="#000" stroke-width="3" stroke-linecap="round"/>
<text x="59.88" y="615.8" font-size="37" fill="#000" >-15</text>
<line x1="128" y1="131.8" x2="142" y2="131.8" stroke="#000" stroke-width="3" stroke-linecap="round"/>
<line x1="128" y1="319.8" x2="142" y2="319.8" stroke="#000" stroke-width="3" stroke-linecap="round"/>
<line x1="128" y1="507.8" x2="142" y2="507.8" stroke="#000" stroke-width="3" stroke-linecap="round"/>
<line x1="280" y1="613.1" x2="280" y2="586.1" stroke="#000" stroke-width="3" stroke-linecap="round"/>
<line x1="432" y1="613.1" x2="432" y2="586.1" stroke="#000" stroke-width="3" stroke-linecap="round"/>
<line x1="584" y1="613.1" x2="584" y2="586.1" stroke="#000" stroke-width="3" stroke-linecap="round"/>
<line x1="204" y1="613.1" x2="204" y2="599.1" stroke="#000" stroke-width="3" stroke-linecap="round"/>
<line x1="356" y1="613.1" x2="356" y2="599.1" stroke="#000" stroke-width="3" stroke-linecap="round"/>
<line x1="508" y1="613.1" x2="508" y2="599.1" stroke="#000" stroke-width="3" stroke-linecap="round"/>
<line x1="660" y1="613.1" x2="660" y2="599.1" stroke="#000" stroke-width="3" stroke-linecap="round"/>
<text x="106.38" y="655" font-size="37">-1</text>
<text x="243.52" y="655" font-size="37">-0.5</text>
<text x="423.21" y="655" font-size="37">0</text>
<text x="559.84" y="655" font-size="37">0.5</text>
<text x="726.71" y="655" font-size="37">1</text>
<text x="394.05" y="701" font-size="36" fill="#000" >B (T)</text>
<text x="676.83" y="50.2" font-size="35" fill="#000" letter-spacing="2" >(a)</text>
<text x="749.54" y="139.3" font-size="26" fill="#f3c3c7" >-7 V</text>
<text x="749.54" y="174.3" font-size="26" fill="#e4797d" >-3 V</text>
<text x="750.24" y="200" font-size="26" fill="#df5e62" >-2 V</text>
<text x="625.24" y="196" font-size="26" fill="#d64343" >-1.5 V</text>
<text x="574.64" y="239.5" font-size="26" fill="#da2e2e" >-1 V</text>
<text x="752.48" y="468.8" font-size="26" fill="#a3c0e3" >6 V</text>
<text x="752.96" y="503" font-size="26" fill="#6d97cb" >5 V</text>
<text x="753.02" y="533.2" font-size="26" fill="#173f8b" >1 V</text>
<text x="753.01" y="563.8" font-size="26" fill="#1f5ba9" >3 V</text>
<text transform="translate(38.4 445.7) rotate(-90) scale(0.87 1)" fill="#000">
<tspan x="-1" y="0" font-size="33.5">Δ</tspan>
<tspan x="24.74" y="0" font-size="33.5">ρ</tspan>
<tspan x="47.59" y="0" font-size="33.5">/</tspan>
<tspan x="60.71" y="0" font-size="33.5">ρ</tspan>
<tspan x="92.21" y="-14" font-size="27">2</tspan>
<tspan x="115.28" y="0" font-size="33.5">(</tspan>
<tspan x="134.13" y="-1" font-size="25">×</tspan>
<tspan x="147.68" y="0" font-size="33.5">1</tspan>
<tspan x="164.78" y="0" font-size="33.5">0</tspan>
<tspan x="190.06" y="-14" font-size="27">-</tspan>
<tspan x="204.49" y="-14" font-size="27">6</tspan>
<tspan x="231.11" y="0" font-size="33.5">Ω</tspan>
<tspan x="268" y="-14" font-size="27">-</tspan>
<tspan x="281.74" y="-14" font-size="27">1</tspan>
<tspan x="295.21" y="0" font-size="33.5">)</tspan>
</text>
</g>
<g id="pb">
<clipPath id="cb"><rect x="953.9" y="8.2" width="608.0000000000001" height="605.5999999999999"/></clipPath>
<g clip-path="url(#cb)">
<path d="M951.9 71.8 L953.4 70 L954.9 67.3 L956.5 68.9 L958 68.6 L959.5 67.2 L961 68 L962.5 67.4 L964.1 66.7 L965.6 68 L967.1 65.8 L968.6 64.9 L970.1 69 L971.7 67.9 L973.2 65.4 L974.7 65.8 L976.2 67.2 L977.7 65.1 L979.3 63.3 L980.8 64 L982.3 64.2 L983.8 64.3 L985.4 64.2 L986.9 63.5 L988.4 62.7 L989.9 62.4 L991.4 61.6 L993 62 L994.5 62.4 L996 61.3 L997.5 62.8 L999 63.7 L1000.6 60.9 L1002.1 62 L1003.6 62.5 L1005.1 61.9 L1006.6 62.5 L1008.2 62.2 L1009.7 62.3 L1011.2 61.5 L1012.7 61.3 L1014.2 63.7 L1015.8 61.5 L1017.3 59.7 L1018.8 62 L1020.3 60.9 L1021.8 59.2 L1023.4 62.1 L1024.9 62.9 L1026.4 62.7 L1027.9 63.5 L1029.4 61.5 L1031 61.3 L1032.5 61.7 L1034 62.1 L1035.5 61.8 L1037 60.6 L1038.6 60.2 L1040.1 61.1 L1041.6 61.4 L1043.1 59 L1044.7 57.5 L1046.2 58.4 L1047.7 58.2 L1049.2 57.3 L1050.7 56.8 L1052.3 56.6 L1053.8 57.7 L1055.3 58.6 L1056.8 58 L1058.3 58.8 L1059.9 58.5 L1061.4 59.4 L1062.9 60.2 L1064.4 57.6 L1065.9 56.1 L1067.5 52.9 L1069 53.1 L1070.5 55.8 L1072 57.6 L1073.5 56 L1075.1 55.9 L1076.6 56.9 L1078.1 55.7 L1079.6 53.5 L1081.1 52.9 L1082.7 54.8 L1084.2 55.3 L1085.7 55.6 L1087.2 53.8 L1088.7 54.5 L1090.3 56.2 L1091.8 55.8 L1093.3 56 L1094.8 56.4 L1096.3 55.3 L1097.9 53 L1099.4 51.7 L1100.9 54.1 L1102.4 55.9 L1104 54.7 L1105.5 53.5 L1107 53.4 L1108.5 53.7 L1110 53.2 L1111.6 52.5 L1113.1 54.7 L1114.6 55.4 L1116.1 52.8 L1117.6 51.3 L1119.2 51 L1120.7 52.8 L1122.2 54 L1123.7 53.1 L1125.2 52.3 L1126.8 52.1 L1128.3 51 L1129.8 52.3 L1131.3 53.6 L1132.8 54.6 L1134.4 53.4 L1135.9 50.9 L1137.4 52.3 L1138.9 52.1 L1140.4 50 L1142 49.2 L1143.5 50.5 L1145 51.6 L1146.5 51.3 L1148 51.8 L1149.6 52.7 L1151.1 52 L1152.6 51 L1154.1 50.4 L1155.6 50.8 L1157.2 51.8 L1158.7 51.3 L1160.2 50.7 L1161.7 50.3 L1163.2 48.5 L1164.8 47.8 L1166.3 49.7 L1167.8 51 L1169.3 51.7 L1170.9 51.2 L1172.4 50.5 L1173.9 51.6 L1175.4 51.6 L1176.9 49.8 L1178.5 48.7 L1180 49.3 L1181.5 48.5 L1183 48.8 L1184.5 50.6 L1186.1 49.6 L1187.6 50.5 L1189.1 50.6 L1190.6 48.5 L1192.1 48.5 L1193.7 48 L1195.2 48.6 L1196.7 49.2 L1198.2 50.3 L1199.7 50.8 L1201.3 49.7 L1202.8 48.9 L1204.3 47.1 L1205.8 47.2 L1207.3 47.6 L1208.9 48.6 L1210.4 49.3 L1211.9 49.9 L1213.4 50.6 L1214.9 49.9 L1216.5 49.4 L1218 48.8 L1219.5 49.2 L1221 49.8 L1222.5 48.6 L1224.1 48.2 L1225.6 51.3 L1227.1 50.7 L1228.6 48.1 L1230.2 47.5 L1231.7 46.4 L1233.2 48.2 L1234.7 49.5 L1236.2 48.7 L1237.8 50.4 L1239.3 52.4 L1240.8 49.9 L1242.3 48.5 L1243.8 49.6 L1245.4 49.1 L1246.9 48.9 L1248.4 48.6 L1249.9 49 L1251.4 49 L1253 48.6 L1254.5 48.5 L1256 48.4 L1257.5 48.5 L1259 48.6 L1260.6 49 L1262.1 49.3 L1263.6 48.7 L1265.1 48 L1266.6 47.8 L1268.2 47.6 L1269.7 47.9 L1271.2 49 L1272.7 47.1 L1274.2 46.9 L1275.8 49.4 L1277.3 49.6 L1278.8 48.1 L1280.3 49.2 L1281.8 49.5 L1283.4 47.2 L1284.9 46.9 L1286.4 48.1 L1287.9 50 L1289.5 51.2 L1291 50.5 L1292.5 48.4 L1294 47.6 L1295.5 48 L1297.1 48.5 L1298.6 47.7 L1300.1 48.1 L1301.6 50.4 L1303.1 50.2 L1304.7 50.1 L1306.2 49.4 L1307.7 47.8 L1309.2 48.1 L1310.7 50.6 L1312.3 52.2 L1313.8 50.8 L1315.3 51.1 L1316.8 51.3 L1318.3 51.7 L1319.9 52.5 L1321.4 50.8 L1322.9 51.2 L1324.4 51 L1325.9 49.5 L1327.5 48.9 L1329 50.1 L1330.5 51.5 L1332 51.2 L1333.5 51 L1335.1 52.5 L1336.6 52.5 L1338.1 50.6 L1339.6 52.2 L1341.1 54.3 L1342.7 53.5 L1344.2 50.7 L1345.7 49.9 L1347.2 52.1 L1348.8 52.8 L1350.3 53.7 L1351.8 52.5 L1353.3 51.8 L1354.8 52.5 L1356.4 53.2 L1357.9 53.8 L1359.4 53.6 L1360.9 53.2 L1362.4 51 L1364 50.7 L1365.5 51.5 L1367 51.7 L1368.5 53.4 L1370 55.7 L1371.6 55 L1373.1 52.9 L1374.6 52.7 L1376.1 53.2 L1377.6 54.8 L1379.2 55.9 L1380.7 55.2 L1382.2 54.7 L1383.7 52.6 L1385.2 52.4 L1386.8 53.4 L1388.3 54.7 L1389.8 56 L1391.3 55.1 L1392.8 54.8 L1394.4 57.2 L1395.9 56.8 L1397.4 54.7 L1398.9 55.6 L1400.4 55.9 L1402 55.9 L1403.5 57.1 L1405 59.2 L1406.5 57.2 L1408 55.6 L1409.6 57.4 L1411.1 57.4 L1412.6 57.2 L1414.1 57 L1415.7 58.2 L1417.2 58.1 L1418.7 57.1 L1420.2 57.6 L1421.7 57.8 L1423.3 57.7 L1424.8 58.5 L1426.3 58.7 L1427.8 58 L1429.3 58 L1430.9 56.9 L1432.4 56.2 L1433.9 56.2 L1435.4 57.2 L1436.9 57.6 L1438.5 56.5 L1440 57.4 L1441.5 58.9 L1443 57.1 L1444.5 58.2 L1446.1 60 L1447.6 58.4 L1449.1 59.4 L1450.6 59.7 L1452.1 58.3 L1453.7 60.4 L1455.2 60.1 L1456.7 58.1 L1458.2 60.1 L1459.7 59.4 L1461.3 58.7 L1462.8 60.2 L1464.3 62.7 L1465.8 61.7 L1467.3 59.7 L1468.9 61.3 L1470.4 61.7 L1471.9 60.2 L1473.4 60.7 L1475 62.1 L1476.5 62.4 L1478 63.5 L1479.5 64.3 L1481 63.8 L1482.6 63.4 L1484.1 62.2 L1485.6 62 L1487.1 63.4 L1488.6 63.4 L1490.2 63.5 L1491.7 63.4 L1493.2 64.9 L1494.7 67.9 L1496.2 66.4 L1497.8 65 L1499.3 65.4 L1500.8 66.5 L1502.3 67.3 L1503.8 66.5 L1505.4 66.1 L1506.9 66.4 L1508.4 65.9 L1509.9 66.7 L1511.4 67.2 L1513 67.3 L1514.5 68.3 L1516 69 L1517.5 69.1 L1519 69.2 L1520.6 68.5 L1522.1 68.3 L1523.6 69.1 L1525.1 68.9 L1526.6 69.3 L1528.2 70.2 L1529.7 68.4 L1531.2 68 L1532.7 68.6 L1534.3 69.6 L1535.8 69.3 L1537.3 67.4 L1538.8 67.8 L1540.3 70.4 L1541.9 70.9 L1543.4 69.6 L1544.9 70.4 L1546.4 68.8 L1547.9 69.1 L1549.5 71.5 L1551 71.7 L1552.5 72.1 L1554 72 L1555.5 71.2 L1557.1 71.3 L1558.6 71.7 L1560.1 73.9" fill="none" stroke="#000" stroke-width="3" stroke-linejoin="round" stroke-linecap="round" />
<path d="M951.9 152.3 L953.4 150.2 L954.9 152.5 L956.5 150.5 L958 148.7 L959.5 149.5 L961 151 L962.5 149.2 L964.1 145.6 L965.6 146.8 L967.1 149 L968.6 147.2 L970.1 143.2 L971.7 144.2 L973.2 145.4 L974.7 144.5 L976.2 144 L977.7 142 L979.3 141 L980.8 142.1 L982.3 143.2 L983.8 139.2 L985.4 136.4 L986.9 139.4 L988.4 139.2 L989.9 135.7 L991.4 135.4 L993 135.9 L994.5 135.1 L996 134.1 L997.5 133.2 L999 132.5 L1000.6 132.3 L1002.1 131.3 L1003.6 130 L1005.1 129.9 L1006.6 130.6 L1008.2 130.3 L1009.7 128.3 L1011.2 127.7 L1012.7 127.5 L1014.2 127.3 L1015.8 126.7 L1017.3 126.7 L1018.8 126.8 L1020.3 124.4 L1021.8 122.2 L1023.4 122.4 L1024.9 122.6 L1026.4 121.1 L1027.9 118.8 L1029.4 116.6 L1031 117.8 L1032.5 119.7 L1034 119.6 L1035.5 117.2 L1037 117 L1038.6 117.2 L1040.1 116.2 L1041.6 116.7 L1043.1 115.1 L1044.7 113.8 L1046.2 112.2 L1047.7 111.5 L1049.2 111.3 L1050.7 112.2 L1052.3 113.4 L1053.8 113.5 L1055.3 113.3 L1056.8 111.4 L1058.3 111 L1059.9 110.7 L1061.4 110.5 L1062.9 110.6 L1064.4 108.7 L1065.9 107.8 L1067.5 108.2 L1069 107.4 L1070.5 107.5 L1072 108.7 L1073.5 106.9 L1075.1 104.4 L1076.6 101.9 L1078.1 101.4 L1079.6 102.4 L1081.1 99.8 L1082.7 99.7 L1084.2 101.5 L1085.7 99.9 L1087.2 98.2 L1088.7 97.3 L1090.3 97.6 L1091.8 96.4 L1093.3 94.7 L1094.8 97.2 L1096.3 96.9 L1097.9 94.9 L1099.4 94.1 L1100.9 92 L1102.4 91.6 L1104 92.5 L1105.5 91.1 L1107 90.6 L1108.5 92.2 L1110 92.5 L1111.6 89.4 L1113.1 87.1 L1114.6 86.7 L1116.1 88.2 L1117.6 89.9 L1119.2 89.2 L1120.7 87.5 L1122.2 85.4 L1123.7 85.9 L1125.2 86.7 L1126.8 85.5 L1128.3 85.2 L1129.8 86.2 L1131.3 85.9 L1132.8 83.9 L1134.4 81.3 L1135.9 81.6 L1137.4 83.3 L1138.9 82.8 L1140.4 81.8 L1142 80.9 L1143.5 81.4 L1145 81.5 L1146.5 80.3 L1148 78.8 L1149.6 77.5 L1151.1 77.9 L1152.6 76.8 L1154.1 74.8 L1155.6 74.7 L1157.2 76.2 L1158.7 76 L1160.2 75.4 L1161.7 74.4 L1163.2 72 L1164.8 70.1 L1166.3 69.1 L1167.8 70.9 L1169.3 71 L1170.9 69.6 L1172.4 69.3 L1173.9 67.9 L1175.4 66.4 L1176.9 65.8 L1178.5 66 L1180 65.7 L1181.5 65 L1183 64.1 L1184.5 62.3 L1186.1 61.3 L1187.6 60.6 L1189.1 61.1 L1190.6 59.4 L1192.1 57.7 L1193.7 61.2 L1195.2 60.5 L1196.7 56.6 L1198.2 56.4 L1199.7 58 L1201.3 57.3 L1202.8 56.2 L1204.3 55.9 L1205.8 54.5 L1207.3 56.9 L1208.9 56.9 L1210.4 53.1 L1211.9 52.2 L1213.4 52.7 L1214.9 53.2 L1216.5 53.3 L1218 52.9 L1219.5 50.7 L1221 50.9 L1222.5 51.8 L1224.1 50.9 L1225.6 49.7 L1227.1 49.3 L1228.6 49.9 L1230.2 50.3 L1231.7 49.5 L1233.2 49.5 L1234.7 50.9 L1236.2 49.7 L1237.8 48.9 L1239.3 49 L1240.8 50.3 L1242.3 48.8 L1243.8 47.9 L1245.4 48.6 L1246.9 48.6 L1248.4 49.8 L1249.9 49.4 L1251.4 49 L1253 48.8 L1254.5 48.8 L1256 48.4 L1257.5 48.8 L1259 48.8 L1260.6 48.4 L1262.1 49.2 L1263.6 49.9 L1265.1 49.5 L1266.6 50.1 L1268.2 49.6 L1269.7 50.2 L1271.2 51.6 L1272.7 51.7 L1274.2 51.4 L1275.8 51.8 L1277.3 52.1 L1278.8 52.8 L1280.3 54.9 L1281.8 55.2 L1283.4 55 L1284.9 55.1 L1286.4 52.5 L1287.9 53 L1289.5 55.6 L1291 55.3 L1292.5 55.6 L1294 54.5 L1295.5 54.6 L1297.1 56.8 L1298.6 58.9 L1300.1 58 L1301.6 56.2 L1303.1 58.3 L1304.7 58.6 L1306.2 59.5 L1307.7 60.6 L1309.2 58.2 L1310.7 59.3 L1312.3 61.9 L1313.8 60 L1315.3 60.1 L1316.8 61.5 L1318.3 61.7 L1319.9 61.9 L1321.4 59.4 L1322.9 60.6 L1324.4 63.2 L1325.9 65 L1327.5 66.1 L1329 65.2 L1330.5 63.8 L1332 63.1 L1333.5 63.4 L1335.1 63.6 L1336.6 64.2 L1338.1 63.1 L1339.6 64.1 L1341.1 67 L1342.7 69.8 L1344.2 71.2 L1345.7 69.1 L1347.2 69.6 L1348.8 69.6 L1350.3 69.2 L1351.8 69.3 L1353.3 71.9 L1354.8 74.9 L1356.4 73.2 L1357.9 73.4 L1359.4 76 L1360.9 77.3 L1362.4 77.5 L1364 76.9 L1365.5 76.7 L1367 78.3 L1368.5 80.3 L1370 80.1 L1371.6 78.9 L1373.1 81.3 L1374.6 82.1 L1376.1 82.7 L1377.6 84.4 L1379.2 84.8 L1380.7 86.8 L1382.2 87.3 L1383.7 87 L1385.2 86.1 L1386.8 85.4 L1388.3 87.4 L1389.8 90.1 L1391.3 91.4 L1392.8 92.7 L1394.4 92.3 L1395.9 91 L1397.4 92.3 L1398.9 92.7 L1400.4 92.3 L1402 92 L1403.5 93.5 L1405 94.1 L1406.5 94.3 L1408 94.6 L1409.6 95.7 L1411.1 96.7 L1412.6 97.1 L1414.1 97.1 L1415.7 96.6 L1417.2 99.7 L1418.7 100 L1420.2 99.5 L1421.7 100.4 L1423.3 98.9 L1424.8 100.2 L1426.3 103.3 L1427.8 102.6 L1429.3 103.3 L1430.9 104.2 L1432.4 103.4 L1433.9 104.7 L1435.4 105.6 L1436.9 108.3 L1438.5 108.1 L1440 107.3 L1441.5 110.3 L1443 108.4 L1444.5 106.6 L1446.1 109.6 L1447.6 111.4 L1449.1 111.9 L1450.6 114 L1452.1 114.1 L1453.7 112.7 L1455.2 111.3 L1456.7 113.2 L1458.2 115.6 L1459.7 116.4 L1461.3 118.2 L1462.8 117.4 L1464.3 119.5 L1465.8 122.5 L1467.3 122.4 L1468.9 121.1 L1470.4 120.6 L1471.9 121.9 L1473.4 122.6 L1475 122.8 L1476.5 124.2 L1478 126.1 L1479.5 126.7 L1481 126.6 L1482.6 128 L1484.1 129.2 L1485.6 126.1 L1487.1 125.8 L1488.6 128.8 L1490.2 130.7 L1491.7 131 L1493.2 130.3 L1494.7 130.4 L1496.2 131.7 L1497.8 132.3 L1499.3 131.5 L1500.8 131.6 L1502.3 133.1 L1503.8 133.7 L1505.4 132.1 L1506.9 133.5 L1508.4 134.8 L1509.9 135 L1511.4 136.4 L1513 137.7 L1514.5 138.7 L1516 137.6 L1517.5 136.9 L1519 136.8 L1520.6 139 L1522.1 141.1 L1523.6 141.4 L1525.1 141.3 L1526.6 138.8 L1528.2 141.1 L1529.7 143.7 L1531.2 143 L1532.7 143.7 L1534.3 144.8 L1535.8 145.9 L1537.3 144.6 L1538.8 145.8 L1540.3 147.5 L1541.9 146.8 L1543.4 149.7 L1544.9 151.7 L1546.4 150.6 L1547.9 148.8 L1549.5 150.1 L1551 153.1 L1552.5 153.7 L1554 152.9 L1555.5 153.1 L1557.1 153.9 L1558.6 155.7 L1560.1 158.5" fill="none" stroke="#000" stroke-width="3" stroke-linejoin="round" stroke-linecap="round" />
<path d="M951.9 197.3 L953.4 195.3 L954.9 194.4 L956.5 196.2 L958 197.3 L959.5 196.5 L961 194.3 L962.5 192.4 L964.1 190.4 L965.6 189.3 L967.1 189.5 L968.6 188.1 L970.1 187.5 L971.7 186.4 L973.2 183.1 L974.7 182.1 L976.2 181.3 L977.7 180.1 L979.3 181.8 L980.8 182 L982.3 180.2 L983.8 180.5 L985.4 180.6 L986.9 178.1 L988.4 177.2 L989.9 177.1 L991.4 175 L993 174 L994.5 171.7 L996 169.6 L997.5 169.7 L999 169.9 L1000.6 168.6 L1002.1 166.9 L1003.6 167 L1005.1 167.3 L1006.6 166.1 L1008.2 164.8 L1009.7 162.7 L1011.2 160.2 L1012.7 159.8 L1014.2 158.7 L1015.8 157 L1017.3 157.8 L1018.8 157.1 L1020.3 153.8 L1021.8 153.5 L1023.4 155.2 L1024.9 154 L1026.4 152.7 L1027.9 151.5 L1029.4 149.2 L1031 148.4 L1032.5 148.1 L1034 149.8 L1035.5 148.3 L1037 147.6 L1038.6 147.2 L1040.1 145 L1041.6 146.2 L1043.1 146.5 L1044.7 145.5 L1046.2 143 L1047.7 142.6 L1049.2 142.7 L1050.7 144.2 L1052.3 144.5 L1053.8 141.8 L1055.3 140.5 L1056.8 139.4 L1058.3 138.7 L1059.9 139.5 L1061.4 139.9 L1062.9 138.9 L1064.4 137.9 L1065.9 136.2 L1067.5 137.3 L1069 136.1 L1070.5 132.5 L1072 132.9 L1073.5 132.7 L1075.1 131 L1076.6 131.9 L1078.1 130.6 L1079.6 129.6 L1081.1 128.7 L1082.7 128.3 L1084.2 129.1 L1085.7 126.3 L1087.2 123.9 L1088.7 122.5 L1090.3 121.9 L1091.8 122.7 L1093.3 120.2 L1094.8 119 L1096.3 118.1 L1097.9 115.6 L1099.4 114.2 L1100.9 116.1 L1102.4 116.9 L1104 114.4 L1105.5 113 L1107 113 L1108.5 110.9 L1110 109.3 L1111.6 112.5 L1113.1 111.5 L1114.6 108.8 L1116.1 109.1 L1117.6 107.7 L1119.2 106.5 L1120.7 107.5 L1122.2 107 L1123.7 105.8 L1125.2 104.7 L1126.8 104 L1128.3 103.8 L1129.8 104.2 L1131.3 104.2 L1132.8 101.9 L1134.4 98.4 L1135.9 98.6 L1137.4 100.8 L1138.9 98.6 L1140.4 95.4 L1142 94.4 L1143.5 96.3 L1145 95.6 L1146.5 93.6 L1148 93.9 L1149.6 94.6 L1151.1 93.6 L1152.6 91.5 L1154.1 90.2 L1155.6 90.9 L1157.2 91.5 L1158.7 89 L1160.2 85.9 L1161.7 84.3 L1163.2 85.3 L1164.8 84.4 L1166.3 83.8 L1167.8 83.9 L1169.3 82.5 L1170.9 81.9 L1172.4 81.2 L1173.9 78.9 L1175.4 77.3 L1176.9 79.4 L1178.5 77.7 L1180 74.3 L1181.5 75.6 L1183 75 L1184.5 72.4 L1186.1 70.5 L1187.6 70.8 L1189.1 72 L1190.6 71.9 L1192.1 70.1 L1193.7 68.9 L1195.2 67 L1196.7 65.3 L1198.2 64.7 L1199.7 63.8 L1201.3 64.3 L1202.8 64.3 L1204.3 61.9 L1205.8 61.3 L1207.3 61 L1208.9 58.1 L1210.4 57.7 L1211.9 56.7 L1213.4 56.2 L1214.9 57.3 L1216.5 56.6 L1218 56.4 L1219.5 55.9 L1221 55 L1222.5 53.6 L1224.1 53.3 L1225.6 53.5 L1227.1 52.8 L1228.6 53.2 L1230.2 53.5 L1231.7 51.8 L1233.2 49.9 L1234.7 50.9 L1236.2 52.5 L1237.8 52.9 L1239.3 53 L1240.8 53.6 L1242.3 52.8 L1243.8 51.4 L1245.4 50.1 L1246.9 49.3 L1248.4 49.4 L1249.9 49.7 L1251.4 49.6 L1253 49.1 L1254.5 48.7 L1256 48.4 L1257.5 48.8 L1259 49.1 L1260.6 49.5 L1262.1 49.6 L1263.6 49.3 L1265.1 50.1 L1266.6 51.4 L1268.2 51.3 L1269.7 51.1 L1271.2 53.7 L1272.7 53.8 L1274.2 51.9 L1275.8 53.3 L1277.3 52.8 L1278.8 53.1 L1280.3 56.3 L1281.8 57.5 L1283.4 56.9 L1284.9 57 L1286.4 57 L1287.9 57.8 L1289.5 58 L1291 57.2 L1292.5 57.9 L1294 59.6 L1295.5 60.2 L1297.1 60.5 L1298.6 58.8 L1300.1 59.7 L1301.6 64.2 L1303.1 64.7 L1304.7 62.7 L1306.2 61.2 L1307.7 62.2 L1309.2 62.5 L1310.7 63.4 L1312.3 64.3 L1313.8 65 L1315.3 67.2 L1316.8 64.9 L1318.3 64.4 L1319.9 66.2 L1321.4 65.1 L1322.9 65.7 L1324.4 67.3 L1325.9 69.4 L1327.5 68.7 L1329 69.3 L1330.5 73.1 L1332 73.3 L1333.5 72.5 L1335.1 72.6 L1336.6 71.7 L1338.1 72.8 L1339.6 74.9 L1341.1 75.8 L1342.7 78.5 L1344.2 79.2 L1345.7 77.9 L1347.2 79.4 L1348.8 78.5 L1350.3 76.8 L1351.8 78.4 L1353.3 79.6 L1354.8 81.4 L1356.4 82.5 L1357.9 84.3 L1359.4 86.8 L1360.9 86.7 L1362.4 85.8 L1364 86.5 L1365.5 88.4 L1367 87.7 L1368.5 88.1 L1370 90.6 L1371.6 91.3 L1373.1 93 L1374.6 94.9 L1376.1 93.6 L1377.6 93.6 L1379.2 94.5 L1380.7 95.9 L1382.2 96.9 L1383.7 98.3 L1385.2 100.4 L1386.8 101.5 L1388.3 102.1 L1389.8 100.9 L1391.3 103.7 L1392.8 105.9 L1394.4 106.6 L1395.9 108.2 L1397.4 108.6 L1398.9 110.9 L1400.4 111.6 L1402 112.2 L1403.5 111.5 L1405 112 L1406.5 114.1 L1408 114.1 L1409.6 115.2 L1411.1 116.5 L1412.6 118.9 L1414.1 117.8 L1415.7 117.1 L1417.2 119 L1418.7 120.9 L1420.2 122 L1421.7 122.2 L1423.3 123 L1424.8 124 L1426.3 126.2 L1427.8 126 L1429.3 125.9 L1430.9 125.8 L1432.4 126.8 L1433.9 129.7 L1435.4 129.8 L1436.9 130.8 L1438.5 130.3 L1440 128.4 L1441.5 129.9 L1443 132 L1444.5 134.1 L1446.1 135.4 L1447.6 136.2 L1449.1 137.8 L1450.6 138.3 L1452.1 137.4 L1453.7 137.6 L1455.2 141.7 L1456.7 141.6 L1458.2 140.4 L1459.7 144.9 L1461.3 146.4 L1462.8 145.3 L1464.3 145.8 L1465.8 148.3 L1467.3 150.3 L1468.9 149.6 L1470.4 150.2 L1471.9 152.2 L1473.4 153.4 L1475 155.4 L1476.5 154.9 L1478 153.2 L1479.5 154.8 L1481 158.6 L1482.6 159.7 L1484.1 159.2 L1485.6 161.6 L1487.1 161.2 L1488.6 160.6 L1490.2 161.9 L1491.7 161.9 L1493.2 163.3 L1494.7 165.4 L1496.2 165.2 L1497.8 164.1 L1499.3 164.3 L1500.8 166 L1502.3 167.7 L1503.8 168.4 L1505.4 168.6 L1506.9 168.6 L1508.4 171.3 L1509.9 172.2 L1511.4 172.6 L1513 174 L1514.5 173.8 L1516 172.7 L1517.5 174.6 L1519 177 L1520.6 177.7 L1522.1 176.5 L1523.6 174.8 L1525.1 175.5 L1526.6 177 L1528.2 180.7 L1529.7 182.7 L1531.2 182.5 L1532.7 182.9 L1534.3 184.4 L1535.8 184.8 L1537.3 185.2 L1538.8 186.4 L1540.3 184.7 L1541.9 185 L1543.4 189 L1544.9 189.8 L1546.4 189.2 L1547.9 189.8 L1549.5 190.2 L1551 192.6 L1552.5 193.5 L1554 192.3 L1555.5 190.5 L1557.1 191.7 L1558.6 193.5 L1560.1 193.1" fill="none" stroke="#000" stroke-width="3" stroke-linejoin="round" stroke-linecap="round" />
<path d="M951.9 252.7 L953.4 254.2 L954.9 253.4 L956.5 250.8 L958 250.5 L959.5 251.1 L961 250.9 L962.5 250.8 L964.1 249.7 L965.6 247 L967.1 246.4 L968.6 246.8 L970.1 245.6 L971.7 245 L973.2 246.7 L974.7 245 L976.2 242.5 L977.7 243.4 L979.3 241.9 L980.8 239 L982.3 237.6 L983.8 237.9 L985.4 238.4 L986.9 236.9 L988.4 235.5 L989.9 235.9 L991.4 235.6 L993 232.1 L994.5 230.2 L996 230.5 L997.5 230 L999 228.5 L1000.6 226 L1002.1 224.5 L1003.6 222.2 L1005.1 221.3 L1006.6 221.1 L1008.2 220.3 L1009.7 218.5 L1011.2 216.4 L1012.7 215.1 L1014.2 213.2 L1015.8 213.5 L1017.3 212.7 L1018.8 211.2 L1020.3 209.3 L1021.8 207.8 L1023.4 206 L1024.9 204.3 L1026.4 204.3 L1027.9 204.1 L1029.4 203.7 L1031 201.9 L1032.5 201.5 L1034 200.8 L1035.5 199.5 L1037 199 L1038.6 197.5 L1040.1 195.6 L1041.6 195 L1043.1 193.9 L1044.7 193 L1046.2 193.5 L1047.7 193 L1049.2 190.7 L1050.7 187.7 L1052.3 187.1 L1053.8 187.2 L1055.3 187.3 L1056.8 186.1 L1058.3 183.9 L1059.9 183.9 L1061.4 182.7 L1062.9 180.8 L1064.4 181.8 L1065.9 182.2 L1067.5 180.1 L1069 177.8 L1070.5 175.2 L1072 174.3 L1073.5 174.1 L1075.1 172.5 L1076.6 170.8 L1078.1 169.3 L1079.6 168.4 L1081.1 167.4 L1082.7 167.7 L1084.2 166.4 L1085.7 162.3 L1087.2 159.9 L1088.7 158.7 L1090.3 157.6 L1091.8 158.3 L1093.3 158.1 L1094.8 155.8 L1096.3 154.4 L1097.9 153.1 L1099.4 150.3 L1100.9 148.5 L1102.4 147.9 L1104 149.3 L1105.5 147.7 L1107 146.5 L1108.5 147.8 L1110 145.4 L1111.6 143.1 L1113.1 141.6 L1114.6 140.6 L1116.1 140.7 L1117.6 139.7 L1119.2 139 L1120.7 139.1 L1122.2 137.4 L1123.7 135.6 L1125.2 134.2 L1126.8 133.2 L1128.3 131.2 L1129.8 130.2 L1131.3 130.4 L1132.8 128.1 L1134.4 128.8 L1135.9 127.6 L1137.4 123.7 L1138.9 123.8 L1140.4 121.6 L1142 119.5 L1143.5 118.7 L1145 117.3 L1146.5 117.3 L1148 117.2 L1149.6 117.1 L1151.1 116.2 L1152.6 115 L1154.1 113.5 L1155.6 110.6 L1157.2 109.7 L1158.7 108.4 L1160.2 105.4 L1161.7 105.9 L1163.2 105.8 L1164.8 103.3 L1166.3 101.9 L1167.8 101.1 L1169.3 97.8 L1170.9 95.6 L1172.4 94.4 L1173.9 93.3 L1175.4 92.4 L1176.9 92.3 L1178.5 92.1 L1180 88.8 L1181.5 87.1 L1183 85.4 L1184.5 84.2 L1186.1 84.4 L1187.6 83.3 L1189.1 79.7 L1190.6 77.7 L1192.1 78.6 L1193.7 77.8 L1195.2 77.1 L1196.7 74.3 L1198.2 72.3 L1199.7 71.6 L1201.3 70 L1202.8 69.8 L1204.3 69 L1205.8 66.9 L1207.3 65.3 L1208.9 63.7 L1210.4 61.2 L1211.9 61.8 L1213.4 62.2 L1214.9 59.4 L1216.5 57.9 L1218 58.7 L1219.5 60.3 L1221 60.7 L1222.5 59.4 L1224.1 56.3 L1225.6 55 L1227.1 56.6 L1228.6 56.6 L1230.2 56.1 L1231.7 55.2 L1233.2 56 L1234.7 57.2 L1236.2 55.1 L1237.8 52.4 L1239.3 54 L1240.8 54 L1242.3 52.8 L1243.8 54.2 L1245.4 52.1 L1246.9 50.7 L1248.4 50.6 L1249.9 50.2 L1251.4 49.9 L1253 49.7 L1254.5 49.1 L1256 48.4 L1257.5 48.9 L1259 49.3 L1260.6 49.4 L1262.1 50.7 L1263.6 51.2 L1265.1 50.3 L1266.6 51.3 L1268.2 51.4 L1269.7 50.2 L1271.2 52.5 L1272.7 54.4 L1274.2 53.6 L1275.8 54.8 L1277.3 55.1 L1278.8 55.3 L1280.3 57.1 L1281.8 61.1 L1283.4 62.4 L1284.9 61.7 L1286.4 60.5 L1287.9 60.6 L1289.5 61.7 L1291 63.2 L1292.5 64.9 L1294 65 L1295.5 65.8 L1297.1 66 L1298.6 65.4 L1300.1 67.1 L1301.6 68 L1303.1 67 L1304.7 68.7 L1306.2 69.8 L1307.7 71 L1309.2 73.3 L1310.7 74 L1312.3 73.9 L1313.8 74.4 L1315.3 75.7 L1316.8 74.7 L1318.3 75 L1319.9 76.6 L1321.4 75.9 L1322.9 77.6 L1324.4 79.2 L1325.9 80.5 L1327.5 82.8 L1329 81 L1330.5 80.8 L1332 85.7 L1333.5 87.6 L1335.1 88.2 L1336.6 88.7 L1338.1 87.2 L1339.6 87.4 L1341.1 90.7 L1342.7 94 L1344.2 94.1 L1345.7 94.4 L1347.2 96.8 L1348.8 96.9 L1350.3 97.8 L1351.8 102.5 L1353.3 106.3 L1354.8 106.3 L1356.4 107.5 L1357.9 108.6 L1359.4 107.6 L1360.9 107.5 L1362.4 110.6 L1364 113.7 L1365.5 116.3 L1367 118.2 L1368.5 117.5 L1370 116.7 L1371.6 119.1 L1373.1 121.5 L1374.6 121 L1376.1 120.4 L1377.6 122.4 L1379.2 126.4 L1380.7 126 L1382.2 126.1 L1383.7 128 L1385.2 129.8 L1386.8 130.4 L1388.3 132.1 L1389.8 132.7 L1391.3 131.5 L1392.8 132.2 L1394.4 131.4 L1395.9 132 L1397.4 136.2 L1398.9 138.1 L1400.4 137.4 L1402 138.5 L1403.5 138.4 L1405 138.8 L1406.5 142.2 L1408 144.1 L1409.6 144 L1411.1 145.2 L1412.6 148.7 L1414.1 148.6 L1415.7 148.6 L1417.2 148.7 L1418.7 147.3 L1420.2 150.4 L1421.7 153.3 L1423.3 154 L1424.8 154.6 L1426.3 155.2 L1427.8 157.6 L1429.3 160.6 L1430.9 160.8 L1432.4 158.9 L1433.9 161.4 L1435.4 164.7 L1436.9 165.3 L1438.5 166.1 L1440 168.9 L1441.5 170 L1443 169.6 L1444.5 169.1 L1446.1 169.3 L1447.6 171.7 L1449.1 173.6 L1450.6 175.9 L1452.1 176.7 L1453.7 179.4 L1455.2 180.6 L1456.7 180.1 L1458.2 182.9 L1459.7 183.7 L1461.3 185.6 L1462.8 188.9 L1464.3 189.7 L1465.8 192.4 L1467.3 194.3 L1468.9 194.4 L1470.4 195 L1471.9 194.7 L1473.4 196.5 L1475 199.1 L1476.5 200.7 L1478 203.1 L1479.5 202.7 L1481 202.2 L1482.6 203.9 L1484.1 207.3 L1485.6 209.6 L1487.1 209 L1488.6 209.5 L1490.2 211.9 L1491.7 213.5 L1493.2 213.9 L1494.7 213.3 L1496.2 215.1 L1497.8 218.3 L1499.3 218.6 L1500.8 220.3 L1502.3 220.5 L1503.8 220.1 L1505.4 221.8 L1506.9 223.2 L1508.4 223.1 L1509.9 223.6 L1511.4 224.3 L1513 225.7 L1514.5 227.9 L1516 228.1 L1517.5 229.9 L1519 229.3 L1520.6 228.3 L1522.1 232.2 L1523.6 232.9 L1525.1 230.8 L1526.6 233.4 L1528.2 236.3 L1529.7 234.8 L1531.2 236 L1532.7 237 L1534.3 236 L1535.8 237.7 L1537.3 239.4 L1538.8 239.5 L1540.3 240.5 L1541.9 241.5 L1543.4 242.8 L1544.9 244.6 L1546.4 246.2 L1547.9 246.7 L1549.5 245.7 L1551 245.8 L1552.5 247.7 L1554 251.3 L1555.5 253.2 L1557.1 252.1 L1558.6 253.1 L1560.1 253.5" fill="none" stroke="#000" stroke-width="3" stroke-linejoin="round" stroke-linecap="round" />
<path d="M951.9 353.1 L953.4 348.7 L954.9 346.4 L956.5 346.5 L958 345.1 L959.5 342.5 L961 343.5 L962.5 342.2 L964.1 342.4 L965.6 343.5 L967.1 340.6 L968.6 338 L970.1 336.3 L971.7 334.4 L973.2 335 L974.7 335.7 L976.2 334.5 L977.7 333 L979.3 331 L980.8 329.9 L982.3 327.8 L983.8 326.2 L985.4 327.7 L986.9 327.6 L988.4 324.5 L989.9 321.7 L991.4 322 L993 322.6 L994.5 318.4 L996 314.8 L997.5 314.8 L999 314.6 L1000.6 311.9 L1002.1 309.6 L1003.6 308.3 L1005.1 308.1 L1006.6 306.9 L1008.2 302.7 L1009.7 300.1 L1011.2 299.3 L1012.7 298.3 L1014.2 294.4 L1015.8 292.1 L1017.3 290 L1018.8 287.2 L1020.3 285.4 L1021.8 283 L1023.4 281.8 L1024.9 280.4 L1026.4 279.8 L1027.9 279.7 L1029.4 277.4 L1031 274.1 L1032.5 273.4 L1034 271.1 L1035.5 267 L1037 268 L1038.6 268.9 L1040.1 267.7 L1041.6 265.4 L1043.1 261.9 L1044.7 260.1 L1046.2 260.4 L1047.7 258.7 L1049.2 256 L1050.7 254 L1052.3 252.1 L1053.8 252.6 L1055.3 252.6 L1056.8 249.2 L1058.3 246.3 L1059.9 245.3 L1061.4 245.2 L1062.9 243 L1064.4 240.7 L1065.9 238.1 L1067.5 235.4 L1069 236 L1070.5 236.2 L1072 232.9 L1073.5 229.4 L1075.1 229.3 L1076.6 227.7 L1078.1 224.5 L1079.6 223.4 L1081.1 222 L1082.7 220.6 L1084.2 219.1 L1085.7 215.5 L1087.2 212.7 L1088.7 211.2 L1090.3 208 L1091.8 205.2 L1093.3 205.5 L1094.8 203 L1096.3 201.1 L1097.9 201 L1099.4 198.2 L1100.9 196.7 L1102.4 195.6 L1104 194.5 L1105.5 192.2 L1107 189.3 L1108.5 187.9 L1110 188.4 L1111.6 188.1 L1113.1 184.1 L1114.6 181.6 L1116.1 180.4 L1117.6 179.4 L1119.2 178.9 L1120.7 179.7 L1122.2 176.6 L1123.7 174.1 L1125.2 174.9 L1126.8 172 L1128.3 170.2 L1129.8 169 L1131.3 167.9 L1132.8 167.9 L1134.4 165.1 L1135.9 164 L1137.4 163.6 L1138.9 162.3 L1140.4 161.5 L1142 159.8 L1143.5 158.3 L1145 156.6 L1146.5 154.4 L1148 151 L1149.6 149.8 L1151.1 149.5 L1152.6 149 L1154.1 144.7 L1155.6 140.8 L1157.2 141.8 L1158.7 138.9 L1160.2 135.9 L1161.7 137.1 L1163.2 136.8 L1164.8 132.2 L1166.3 130.3 L1167.8 130.4 L1169.3 127.9 L1170.9 125.4 L1172.4 123.1 L1173.9 120.1 L1175.4 117.7 L1176.9 117.4 L1178.5 116.3 L1180 115.6 L1181.5 113.5 L1183 108 L1184.5 106.3 L1186.1 107.1 L1187.6 106.1 L1189.1 104.3 L1190.6 101.6 L1192.1 101.2 L1193.7 99.8 L1195.2 97.4 L1196.7 96.2 L1198.2 92.8 L1199.7 92.8 L1201.3 90 L1202.8 86.4 L1204.3 87.6 L1205.8 86.5 L1207.3 85.3 L1208.9 84 L1210.4 81.5 L1211.9 82.1 L1213.4 80.9 L1214.9 77.3 L1216.5 75.1 L1218 73.2 L1219.5 73.4 L1221 73.3 L1222.5 71.3 L1224.1 68.7 L1225.6 67.9 L1227.1 65.6 L1228.6 63.3 L1230.2 63.3 L1231.7 61.4 L1233.2 60.5 L1234.7 59.4 L1236.2 57.3 L1237.8 58.4 L1239.3 58.7 L1240.8 57.1 L1242.3 55.3 L1243.8 54.1 L1245.4 53.6 L1246.9 52.9 L1248.4 52.7 L1249.9 51.2 L1251.4 49.8 L1253 49.3 L1254.5 48.5 L1256 48.4 L1257.5 48.7 L1259 49.4 L1260.6 49.9 L1262.1 50.6 L1263.6 52.2 L1265.1 52.2 L1266.6 53.2 L1268.2 55.7 L1269.7 56.1 L1271.2 54.8 L1272.7 56.7 L1274.2 58.6 L1275.8 58.1 L1277.3 59.5 L1278.8 60.6 L1280.3 62.7 L1281.8 65.2 L1283.4 66.7 L1284.9 67.8 L1286.4 67.3 L1287.9 67.9 L1289.5 70.8 L1291 71.9 L1292.5 75 L1294 76.5 L1295.5 74.5 L1297.1 77 L1298.6 79.5 L1300.1 79.6 L1301.6 80 L1303.1 81.7 L1304.7 83.9 L1306.2 85.5 L1307.7 85.7 L1309.2 86.7 L1310.7 89 L1312.3 90.7 L1313.8 88.4 L1315.3 88.2 L1316.8 91.6 L1318.3 93.6 L1319.9 95.9 L1321.4 98.3 L1322.9 100.1 L1324.4 100.6 L1325.9 101.5 L1327.5 104.7 L1329 105.6 L1330.5 105.8 L1332 109.4 L1333.5 111 L1335.1 109.4 L1336.6 111.1 L1338.1 114.4 L1339.6 115.8 L1341.1 118.9 L1342.7 121.3 L1344.2 122.1 L1345.7 124.4 L1347.2 127 L1348.8 128.3 L1350.3 130.1 L1351.8 132.3 L1353.3 133.7 L1354.8 135 L1356.4 137.3 L1357.9 138.9 L1359.4 139.7 L1360.9 143.7 L1362.4 146.5 L1364 147.2 L1365.5 149.1 L1367 151 L1368.5 152.9 L1370 154.6 L1371.6 155.5 L1373.1 158 L1374.6 159.7 L1376.1 161.4 L1377.6 161.8 L1379.2 161.4 L1380.7 165.6 L1382.2 168 L1383.7 167.9 L1385.2 169.9 L1386.8 171 L1388.3 172.2 L1389.8 172.6 L1391.3 173.6 L1392.8 176.5 L1394.4 178.9 L1395.9 181.8 L1397.4 182 L1398.9 184.1 L1400.4 185.9 L1402 184 L1403.5 183.9 L1405 188.7 L1406.5 192.4 L1408 192 L1409.6 193 L1411.1 194.2 L1412.6 197.7 L1414.1 200.2 L1415.7 202.3 L1417.2 203.8 L1418.7 201.6 L1420.2 204.2 L1421.7 207.6 L1423.3 208.3 L1424.8 211.7 L1426.3 213.3 L1427.8 214.6 L1429.3 216.6 L1430.9 216.5 L1432.4 218.6 L1433.9 220.5 L1435.4 222.9 L1436.9 226 L1438.5 226.7 L1440 228.1 L1441.5 230.4 L1443 231.3 L1444.5 233.4 L1446.1 235.3 L1447.6 236.9 L1449.1 238.1 L1450.6 239.6 L1452.1 242.8 L1453.7 244 L1455.2 245.3 L1456.7 247.6 L1458.2 250.8 L1459.7 252.7 L1461.3 254.6 L1462.8 258.8 L1464.3 260.8 L1465.8 260.1 L1467.3 262 L1468.9 266.5 L1470.4 268.2 L1471.9 270.3 L1473.4 273.2 L1475 274.5 L1476.5 275.6 L1478 276.7 L1479.5 278.5 L1481 280.8 L1482.6 283.3 L1484.1 285.3 L1485.6 286.1 L1487.1 287.4 L1488.6 289.6 L1490.2 289.6 L1491.7 290 L1493.2 292.2 L1494.7 294.2 L1496.2 296.1 L1497.8 297.5 L1499.3 298.3 L1500.8 300.6 L1502.3 303 L1503.8 302.2 L1505.4 303.3 L1506.9 305.1 L1508.4 308 L1509.9 309.9 L1511.4 309.2 L1513 311 L1514.5 312.4 L1516 313.6 L1517.5 316.4 L1519 317.9 L1520.6 318.5 L1522.1 320.6 L1523.6 320.1 L1525.1 321.9 L1526.6 324.6 L1528.2 325.2 L1529.7 324.9 L1531.2 326 L1532.7 328.4 L1534.3 328.3 L1535.8 331.2 L1537.3 333.4 L1538.8 332.2 L1540.3 333 L1541.9 335.2 L1543.4 337.1 L1544.9 338 L1546.4 339.1 L1547.9 341 L1549.5 339.9 L1551 339.1 L1552.5 340.5 L1554 342.1 L1555.5 345.3 L1557.1 346.8 L1558.6 345.6 L1560.1 345.7" fill="none" stroke="#000" stroke-width="3" stroke-linejoin="round" stroke-linecap="round" />
<path d="M951.9 511.4 L953.4 511 L954.9 510.2 L956.5 508.7 L958 508.9 L959.5 508.6 L961 504.8 L962.5 501.6 L964.1 502.3 L965.6 501.1 L967.1 499.3 L968.6 499.5 L970.1 496.2 L971.7 492.9 L973.2 491.9 L974.7 489.7 L976.2 487.1 L977.7 485.9 L979.3 485.9 L980.8 484.2 L982.3 481.5 L983.8 479.8 L985.4 477 L986.9 477.1 L988.4 474.4 L989.9 470.7 L991.4 471.5 L993 469 L994.5 467.2 L996 467.7 L997.5 464.4 L999 461.5 L1000.6 459.3 L1002.1 457.6 L1003.6 456.7 L1005.1 454.3 L1006.6 453.4 L1008.2 451.6 L1009.7 449.4 L1011.2 447.5 L1012.7 443 L1014.2 440.5 L1015.8 439.9 L1017.3 436.2 L1018.8 434.8 L1020.3 434 L1021.8 430.9 L1023.4 427.9 L1024.9 425.4 L1026.4 424.3 L1027.9 421.8 L1029.4 419.4 L1031 415.6 L1032.5 414.5 L1034 413.2 L1035.5 407.6 L1037 405.5 L1038.6 404.4 L1040.1 403.4 L1041.6 401 L1043.1 398.5 L1044.7 396.1 L1046.2 395.5 L1047.7 394.5 L1049.2 391.9 L1050.7 388.2 L1052.3 384.6 L1053.8 382.3 L1055.3 379.9 L1056.8 379.1 L1058.3 374.9 L1059.9 370.9 L1061.4 369.1 L1062.9 366.5 L1064.4 364.7 L1065.9 363 L1067.5 360.2 L1069 359.1 L1070.5 358.9 L1072 355.6 L1073.5 352.6 L1075.1 351.8 L1076.6 350.2 L1078.1 347.6 L1079.6 346.7 L1081.1 346.2 L1082.7 344.2 L1084.2 341.3 L1085.7 340.6 L1087.2 340.4 L1088.7 336.3 L1090.3 332.6 L1091.8 332.1 L1093.3 329.4 L1094.8 326.6 L1096.3 325.3 L1097.9 322.1 L1099.4 319.6 L1100.9 316.6 L1102.4 314 L1104 311.2 L1105.5 311.3 L1107 312 L1108.5 308.4 L1110 304.5 L1111.6 301.6 L1113.1 299.6 L1114.6 296.7 L1116.1 293.5 L1117.6 288.7 L1119.2 285.2 L1120.7 282.5 L1122.2 277.9 L1123.7 274.2 L1125.2 272.5 L1126.8 271.4 L1128.3 266.6 L1129.8 264 L1131.3 263.4 L1132.8 258.3 L1134.4 253.3 L1135.9 250.4 L1137.4 248.6 L1138.9 245.2 L1140.4 240.2 L1142 237.8 L1143.5 233.8 L1145 230.6 L1146.5 230.4 L1148 227.5 L1149.6 224 L1151.1 221.1 L1152.6 217.9 L1154.1 214.5 L1155.6 209.9 L1157.2 206.5 L1158.7 204 L1160.2 202.2 L1161.7 200.7 L1163.2 196.8 L1164.8 191.4 L1166.3 187.3 L1167.8 184.7 L1169.3 183.5 L1170.9 180.9 L1172.4 176.4 L1173.9 172.3 L1175.4 170.1 L1176.9 168 L1178.5 164.1 L1180 160.9 L1181.5 159.5 L1183 156.1 L1184.5 153 L1186.1 151.2 L1187.6 146.5 L1189.1 143 L1190.6 139.7 L1192.1 134.9 L1193.7 131.6 L1195.2 128.3 L1196.7 125.9 L1198.2 123.6 L1199.7 120.6 L1201.3 118.2 L1202.8 111.8 L1204.3 108.3 L1205.8 106.6 L1207.3 103.6 L1208.9 101.7 L1210.4 98.9 L1211.9 98.3 L1213.4 94 L1214.9 90.5 L1216.5 89.6 L1218 85.4 L1219.5 83.8 L1221 83.3 L1222.5 80 L1224.1 77.1 L1225.6 78.4 L1227.1 76.5 L1228.6 69.7 L1230.2 67.2 L1231.7 66.5 L1233.2 65 L1234.7 63.4 L1236.2 61 L1237.8 59.8 L1239.3 58.8 L1240.8 55.5 L1242.3 54 L1243.8 53.7 L1245.4 53.7 L1246.9 53.2 L1248.4 51.6 L1249.9 50.6 L1251.4 50.1 L1253 49.8 L1254.5 49 L1256 48.4 L1257.5 48.9 L1259 49.3 L1260.6 49.8 L1262.1 50.8 L1263.6 51.4 L1265.1 52.5 L1266.6 54.5 L1268.2 56.3 L1269.7 56.9 L1271.2 57.7 L1272.7 61.8 L1274.2 62.4 L1275.8 62.5 L1277.3 66.4 L1278.8 68.5 L1280.3 70.6 L1281.8 72.9 L1283.4 75.4 L1284.9 78.8 L1286.4 80.4 L1287.9 81.8 L1289.5 84.4 L1291 86.3 L1292.5 88.7 L1294 90.3 L1295.5 93.3 L1297.1 98.3 L1298.6 101.5 L1300.1 103.6 L1301.6 103.6 L1303.1 106.3 L1304.7 109 L1306.2 110.1 L1307.7 115 L1309.2 116.7 L1310.7 118.4 L1312.3 122.3 L1313.8 124 L1315.3 125.6 L1316.8 128.9 L1318.3 131.9 L1319.9 135.2 L1321.4 139.5 L1322.9 140.1 L1324.4 141.2 L1325.9 145 L1327.5 147.1 L1329 149.2 L1330.5 153.1 L1332 156.7 L1333.5 157.9 L1335.1 160.4 L1336.6 165.3 L1338.1 167.5 L1339.6 169.1 L1341.1 174.5 L1342.7 179.5 L1344.2 179.5 L1345.7 180 L1347.2 184.8 L1348.8 187.9 L1350.3 190.3 L1351.8 194 L1353.3 197.8 L1354.8 198.9 L1356.4 199.4 L1357.9 203.6 L1359.4 209.6 L1360.9 213.6 L1362.4 214.1 L1364 217.7 L1365.5 223 L1367 225.3 L1368.5 227.4 L1370 231 L1371.6 235.5 L1373.1 238.3 L1374.6 240.7 L1376.1 243.6 L1377.6 245.9 L1379.2 248.3 L1380.7 252 L1382.2 255.7 L1383.7 258.4 L1385.2 262.7 L1386.8 266.6 L1388.3 269.7 L1389.8 270.9 L1391.3 273.8 L1392.8 277.8 L1394.4 279.7 L1395.9 282.5 L1397.4 287.4 L1398.9 292 L1400.4 293.2 L1402 294.3 L1403.5 297.9 L1405 301.3 L1406.5 305.7 L1408 307.5 L1409.6 307 L1411.1 310.7 L1412.6 315 L1414.1 317.9 L1415.7 321.1 L1417.2 325.4 L1418.7 326.9 L1420.2 326.9 L1421.7 328 L1423.3 331.2 L1424.8 336 L1426.3 337.9 L1427.8 340.5 L1429.3 343.1 L1430.9 345.8 L1432.4 348.4 L1433.9 348.4 L1435.4 349.9 L1436.9 351.8 L1438.5 353.2 L1440 357.3 L1441.5 362.1 L1443 366.1 L1444.5 367.7 L1446.1 368.2 L1447.6 369.7 L1449.1 373.4 L1450.6 377.4 L1452.1 378.5 L1453.7 381.5 L1455.2 385.2 L1456.7 385.5 L1458.2 388.3 L1459.7 392.8 L1461.3 394.5 L1462.8 396.6 L1464.3 401.3 L1465.8 405.7 L1467.3 408.5 L1468.9 408.7 L1470.4 409 L1471.9 413.5 L1473.4 415.6 L1475 416.7 L1476.5 418.7 L1478 423.6 L1479.5 428.7 L1481 429.9 L1482.6 431.5 L1484.1 433.1 L1485.6 434.9 L1487.1 438.2 L1488.6 440.4 L1490.2 443.4 L1491.7 446.1 L1493.2 446.7 L1494.7 450.8 L1496.2 454 L1497.8 455.8 L1499.3 458 L1500.8 457.9 L1502.3 461.1 L1503.8 464.3 L1505.4 467.1 L1506.9 469.2 L1508.4 468.6 L1509.9 472.4 L1511.4 476.5 L1513 478.2 L1514.5 478.5 L1516 480.9 L1517.5 482.3 L1519 482.5 L1520.6 484.4 L1522.1 485.6 L1523.6 488.2 L1525.1 489.1 L1526.6 489.9 L1528.2 492.2 L1529.7 491.2 L1531.2 490.5 L1532.7 492.7 L1534.3 494.2 L1535.8 495.8 L1537.3 495.5 L1538.8 496.8 L1540.3 500.1 L1541.9 500.1 L1543.4 498.9 L1544.9 499.8 L1546.4 501.3 L1547.9 502.4 L1549.5 503.4 L1551 504.1 L1552.5 504.2 L1554 505.2 L1555.5 503.8 L1557.1 501.8 L1558.6 504.5 L1560.1 504.1" fill="none" stroke="#000" stroke-width="3" stroke-linejoin="round" stroke-linecap="round" />
<path d="M951.9 583.6 L953.4 582.9 L954.9 583.1 L956.5 581.8 L958 581.1 L959.5 577.6 L961 575.4 L962.5 575.7 L964.1 573.1 L965.6 570.7 L967.1 566.4 L968.6 564 L970.1 566.8 L971.7 564.1 L973.2 560.3 L974.7 560.6 L976.2 559.9 L977.7 559.5 L979.3 555.7 L980.8 552.6 L982.3 553.3 L983.8 550.4 L985.4 547.8 L986.9 549.1 L988.4 548.6 L989.9 545.7 L991.4 540.3 L993 538 L994.5 539 L996 537.1 L997.5 535 L999 536.4 L1000.6 534.5 L1002.1 529 L1003.6 527.6 L1005.1 526.5 L1006.6 524.2 L1008.2 522.6 L1009.7 521.8 L1011.2 520.2 L1012.7 516.6 L1014.2 514.4 L1015.8 514.1 L1017.3 511.9 L1018.8 510.6 L1020.3 509.8 L1021.8 505.9 L1023.4 503.6 L1024.9 504.3 L1026.4 503.4 L1027.9 499.5 L1029.4 496.9 L1031 494.3 L1032.5 490.1 L1034 489.1 L1035.5 488.6 L1037 486.4 L1038.6 484.1 L1040.1 481.7 L1041.6 479.1 L1043.1 477.1 L1044.7 476.1 L1046.2 473.4 L1047.7 471.1 L1049.2 467.3 L1050.7 463.5 L1052.3 464.1 L1053.8 464.1 L1055.3 460.6 L1056.8 456.4 L1058.3 452.6 L1059.9 450.5 L1061.4 449.8 L1062.9 445.6 L1064.4 442.7 L1065.9 441.9 L1067.5 439 L1069 434.7 L1070.5 432 L1072 428.7 L1073.5 426.5 L1075.1 424.9 L1076.6 419.4 L1078.1 417.3 L1079.6 416.2 L1081.1 411.1 L1082.7 408.7 L1084.2 405 L1085.7 399.9 L1087.2 398.5 L1088.7 392.7 L1090.3 389.2 L1091.8 387.8 L1093.3 383.4 L1094.8 379 L1096.3 375.9 L1097.9 372.5 L1099.4 367.9 L1100.9 365.2 L1102.4 361.6 L1104 360.1 L1105.5 356.8 L1107 351.4 L1108.5 349 L1110 346.4 L1111.6 344.2 L1113.1 341.7 L1114.6 337.4 L1116.1 333 L1117.6 330 L1119.2 327.9 L1120.7 325.2 L1122.2 320.7 L1123.7 314.8 L1125.2 314 L1126.8 313.4 L1128.3 308.4 L1129.8 304.5 L1131.3 300.4 L1132.8 295.8 L1134.4 292.6 L1135.9 289.9 L1137.4 286.3 L1138.9 281.7 L1140.4 278.6 L1142 277 L1143.5 273.3 L1145 269.3 L1146.5 264.3 L1148 260.5 L1149.6 258.7 L1151.1 254.1 L1152.6 249 L1154.1 246.9 L1155.6 244.1 L1157.2 240.5 L1158.7 237.2 L1160.2 233.6 L1161.7 230 L1163.2 224.3 L1164.8 220.8 L1166.3 218.2 L1167.8 215.2 L1169.3 211.4 L1170.9 206.8 L1172.4 204.3 L1173.9 202.1 L1175.4 198.4 L1176.9 194.6 L1178.5 190.7 L1180 186.9 L1181.5 183.7 L1183 179.8 L1184.5 175.4 L1186.1 171.5 L1187.6 170 L1189.1 166.2 L1190.6 160.1 L1192.1 156.1 L1193.7 152.6 L1195.2 149.5 L1196.7 144.8 L1198.2 139.1 L1199.7 136.8 L1201.3 133.6 L1202.8 130 L1204.3 128.1 L1205.8 125.4 L1207.3 123.4 L1208.9 119.2 L1210.4 113.9 L1211.9 109.1 L1213.4 105.7 L1214.9 103.7 L1216.5 99.4 L1218 96.4 L1219.5 95.3 L1221 92.7 L1222.5 89.2 L1224.1 85.5 L1225.6 81.8 L1227.1 78.1 L1228.6 73.9 L1230.2 71.3 L1231.7 71.3 L1233.2 68.3 L1234.7 64.4 L1236.2 60.6 L1237.8 59.1 L1239.3 56.9 L1240.8 54.2 L1242.3 53.1 L1243.8 50.1 L1245.4 49.4 L1246.9 49 L1248.4 47.7 L1249.9 47 L1251.4 46.3 L1253 45.5 L1254.5 45.2 L1256 45 L1257.5 45.2 L1259 45.4 L1260.6 45.5 L1262.1 46 L1263.6 47 L1265.1 48.1 L1266.6 50.2 L1268.2 50.4 L1269.7 51.2 L1271.2 52.6 L1272.7 53.8 L1274.2 58 L1275.8 59.6 L1277.3 61.3 L1278.8 66.6 L1280.3 71.6 L1281.8 74.7 L1283.4 77.3 L1284.9 82.8 L1286.4 86.9 L1287.9 87.6 L1289.5 92.7 L1291 97.4 L1292.5 98.7 L1294 102.4 L1295.5 105.9 L1297.1 108.5 L1298.6 111.7 L1300.1 113.4 L1301.6 117.3 L1303.1 121.6 L1304.7 123 L1306.2 125.5 L1307.7 130.6 L1309.2 134.4 L1310.7 136.9 L1312.3 141.2 L1313.8 144.7 L1315.3 146.1 L1316.8 150 L1318.3 155.8 L1319.9 159.4 L1321.4 163.5 L1322.9 166.5 L1324.4 169.2 L1325.9 173.8 L1327.5 176.3 L1329 179.8 L1330.5 185.1 L1332 187.7 L1333.5 191.2 L1335.1 194.8 L1336.6 195.8 L1338.1 199.5 L1339.6 204.2 L1341.1 207.1 L1342.7 210.5 L1344.2 214.9 L1345.7 218.9 L1347.2 220.6 L1348.8 224.1 L1350.3 229 L1351.8 231.5 L1353.3 234 L1354.8 237.8 L1356.4 241.2 L1357.9 245.4 L1359.4 250.4 L1360.9 255.4 L1362.4 259 L1364 261.6 L1365.5 265 L1367 268.6 L1368.5 270.5 L1370 273.2 L1371.6 277.1 L1373.1 279.6 L1374.6 282.1 L1376.1 284.9 L1377.6 288.2 L1379.2 290.6 L1380.7 294.4 L1382.2 298.6 L1383.7 301.3 L1385.2 304.7 L1386.8 308.3 L1388.3 310.4 L1389.8 312.7 L1391.3 314.7 L1392.8 315.8 L1394.4 318.4 L1395.9 324.9 L1397.4 328 L1398.9 330 L1400.4 336 L1402 338.2 L1403.5 341.3 L1405 346.4 L1406.5 348.8 L1408 352.4 L1409.6 355.1 L1411.1 355.3 L1412.6 358.3 L1414.1 361.6 L1415.7 363 L1417.2 365.3 L1418.7 371.7 L1420.2 375.5 L1421.7 376.4 L1423.3 379.4 L1424.8 382.6 L1426.3 386.1 L1427.8 388.6 L1429.3 390.8 L1430.9 392.9 L1432.4 396.4 L1433.9 401 L1435.4 406.7 L1436.9 410.4 L1438.5 413.2 L1440 415.7 L1441.5 417 L1443 418.3 L1444.5 421.4 L1446.1 423.6 L1447.6 426.3 L1449.1 432.8 L1450.6 436.4 L1452.1 439 L1453.7 441.4 L1455.2 442.1 L1456.7 445.1 L1458.2 449.1 L1459.7 453.7 L1461.3 458.9 L1462.8 460.1 L1464.3 461 L1465.8 464.5 L1467.3 467.5 L1468.9 469.5 L1470.4 472.8 L1471.9 477.1 L1473.4 480.3 L1475 481.6 L1476.5 483.9 L1478 486.2 L1479.5 489.8 L1481 493.1 L1482.6 494.5 L1484.1 497.5 L1485.6 499.7 L1487.1 501.6 L1488.6 503 L1490.2 508 L1491.7 512.3 L1493.2 513.3 L1494.7 517.4 L1496.2 519.4 L1497.8 520.3 L1499.3 522.7 L1500.8 525.6 L1502.3 528.3 L1503.8 529.7 L1505.4 531.2 L1506.9 533.3 L1508.4 536.6 L1509.9 536.5 L1511.4 537.3 L1513 540.8 L1514.5 542.5 L1516 542.9 L1517.5 545.6 L1519 548.4 L1520.6 549.1 L1522.1 551 L1523.6 551.2 L1525.1 552.8 L1526.6 554.1 L1528.2 555.2 L1529.7 558 L1531.2 560.3 L1532.7 562.1 L1534.3 563.3 L1535.8 566.6 L1537.3 568.5 L1538.8 566.7 L1540.3 567 L1541.9 568.7 L1543.4 570.3 L1544.9 571.6 L1546.4 572.1 L1547.9 575.3 L1549.5 577.1 L1551 576.3 L1552.5 577.1 L1554 578.1 L1555.5 580.5 L1557.1 582 L1558.6 582.6 L1560.1 580" fill="none" stroke="#000" stroke-width="3" stroke-linejoin="round" stroke-linecap="round" />
<path d="M951.9 586.6 L953.4 584.8 L954.9 581.2 L956.5 581.3 L958 579.7 L959.5 575.7 L961 573.9 L962.5 573.6 L964.1 573.8 L965.6 571.8 L967.1 569.9 L968.6 567.4 L970.1 565.8 L971.7 562.6 L973.2 561.7 L974.7 562.6 L976.2 559.7 L977.7 557.2 L979.3 556.2 L980.8 555.9 L982.3 554.4 L983.8 551.3 L985.4 548.7 L986.9 545.6 L988.4 543.8 L989.9 543.6 L991.4 542.2 L993 540.4 L994.5 539.6 L996 538.2 L997.5 536.1 L999 534.5 L1000.6 532.7 L1002.1 530.3 L1003.6 528.8 L1005.1 525.5 L1006.6 524.4 L1008.2 523 L1009.7 520.8 L1011.2 520.2 L1012.7 518.6 L1014.2 516.8 L1015.8 513 L1017.3 512.1 L1018.8 511.2 L1020.3 508.4 L1021.8 506.4 L1023.4 505.3 L1024.9 504 L1026.4 501.2 L1027.9 497 L1029.4 494.4 L1031 493.9 L1032.5 493.9 L1034 492 L1035.5 488.2 L1037 486.8 L1038.6 484.7 L1040.1 481.4 L1041.6 479.5 L1043.1 476 L1044.7 474.5 L1046.2 474.1 L1047.7 470.7 L1049.2 466.9 L1050.7 465.1 L1052.3 465.1 L1053.8 461.9 L1055.3 457.3 L1056.8 455.8 L1058.3 452.9 L1059.9 447.9 L1061.4 446.4 L1062.9 445.3 L1064.4 442.8 L1065.9 440.3 L1067.5 438.1 L1069 435.6 L1070.5 431.8 L1072 428.7 L1073.5 426.8 L1075.1 425 L1076.6 422.1 L1078.1 418.7 L1079.6 411.6 L1081.1 406.7 L1082.7 406.2 L1084.2 403.9 L1085.7 399.4 L1087.2 397.1 L1088.7 395.4 L1090.3 390.1 L1091.8 386.6 L1093.3 383.4 L1094.8 379.1 L1096.3 376.5 L1097.9 373.4 L1099.4 368.2 L1100.9 364.7 L1102.4 362.5 L1104 358.8 L1105.5 356.8 L1107 353.5 L1108.5 350.7 L1110 349.3 L1111.6 343.5 L1113.1 339.6 L1114.6 338.2 L1116.1 334.7 L1117.6 329.2 L1119.2 326.2 L1120.7 325.9 L1122.2 321.1 L1123.7 316.5 L1125.2 314.5 L1126.8 310.6 L1128.3 306.9 L1129.8 303.4 L1131.3 301.4 L1132.8 298.8 L1134.4 293.6 L1135.9 291.1 L1137.4 287.4 L1138.9 283.2 L1140.4 281.1 L1142 278.1 L1143.5 274.8 L1145 271.1 L1146.5 267.2 L1148 263.6 L1149.6 260.3 L1151.1 257.8 L1152.6 253.2 L1154.1 248.7 L1155.6 246.1 L1157.2 241.5 L1158.7 236.9 L1160.2 233.4 L1161.7 228.9 L1163.2 223.5 L1164.8 221.8 L1166.3 218 L1167.8 214.9 L1169.3 212.4 L1170.9 207.7 L1172.4 204.3 L1173.9 200.8 L1175.4 196.9 L1176.9 192.5 L1178.5 189.1 L1180 186.8 L1181.5 184.4 L1183 181 L1184.5 176.6 L1186.1 171.6 L1187.6 166.1 L1189.1 163.2 L1190.6 161.8 L1192.1 157.2 L1193.7 153.5 L1195.2 151.3 L1196.7 147 L1198.2 143.2 L1199.7 139.8 L1201.3 133.6 L1202.8 129.3 L1204.3 127 L1205.8 124.5 L1207.3 120.6 L1208.9 116.3 L1210.4 112.9 L1211.9 110 L1213.4 107.7 L1214.9 105.5 L1216.5 103 L1218 99.3 L1219.5 95.7 L1221 92.5 L1222.5 89.2 L1224.1 87.3 L1225.6 81.7 L1227.1 76.9 L1228.6 76.2 L1230.2 74.3 L1231.7 69.9 L1233.2 66.2 L1234.7 65.1 L1236.2 61.7 L1237.8 56.6 L1239.3 54.4 L1240.8 52.9 L1242.3 52 L1243.8 50.7 L1245.4 50.1 L1246.9 49.5 L1248.4 47.3 L1249.9 46.4 L1251.4 45.7 L1253 45.5 L1254.5 45.4 L1256 45 L1257.5 45.3 L1259 45.6 L1260.6 46 L1262.1 47.8 L1263.6 48.1 L1265.1 48.4 L1266.6 51.1 L1268.2 50.4 L1269.7 49.9 L1271.2 52.5 L1272.7 57 L1274.2 60 L1275.8 61.7 L1277.3 65.7 L1278.8 69.1 L1280.3 71.9 L1281.8 74.8 L1283.4 79 L1284.9 82 L1286.4 86 L1287.9 89.9 L1289.5 91 L1291 95.3 L1292.5 99.6 L1294 100.3 L1295.5 103.2 L1297.1 106.9 L1298.6 109 L1300.1 114.2 L1301.6 117.4 L1303.1 120.2 L1304.7 123.9 L1306.2 128.7 L1307.7 132.3 L1309.2 132.8 L1310.7 135.2 L1312.3 138.9 L1313.8 143.4 L1315.3 147.7 L1316.8 151.9 L1318.3 155.5 L1319.9 158.2 L1321.4 161.8 L1322.9 165 L1324.4 168.4 L1325.9 172.7 L1327.5 176.6 L1329 178.9 L1330.5 180 L1332 183.1 L1333.5 188.5 L1335.1 190.4 L1336.6 193.2 L1338.1 199.4 L1339.6 202.9 L1341.1 205 L1342.7 210.7 L1344.2 216.5 L1345.7 218.3 L1347.2 221.8 L1348.8 226.8 L1350.3 228.1 L1351.8 233 L1353.3 236.7 L1354.8 237.6 L1356.4 241 L1357.9 244.8 L1359.4 248.2 L1360.9 251.6 L1362.4 257.2 L1364 260.9 L1365.5 263 L1367 267.6 L1368.5 270.4 L1370 273.1 L1371.6 276.9 L1373.1 279.4 L1374.6 282.9 L1376.1 286 L1377.6 289.1 L1379.2 291.3 L1380.7 293.9 L1382.2 298.1 L1383.7 301.6 L1385.2 303.2 L1386.8 305.6 L1388.3 309.1 L1389.8 312.7 L1391.3 316.5 L1392.8 319.6 L1394.4 321.8 L1395.9 324.7 L1397.4 327.1 L1398.9 327.4 L1400.4 331.6 L1402 335.7 L1403.5 337.9 L1405 341.3 L1406.5 345.8 L1408 348.9 L1409.6 351.6 L1411.1 355.3 L1412.6 357 L1414.1 359 L1415.7 363.7 L1417.2 368.5 L1418.7 371.9 L1420.2 376.3 L1421.7 378.9 L1423.3 380.6 L1424.8 383.3 L1426.3 386.2 L1427.8 389 L1429.3 391.2 L1430.9 396.4 L1432.4 398.6 L1433.9 400 L1435.4 405.2 L1436.9 408.1 L1438.5 409.8 L1440 412.5 L1441.5 416 L1443 418.2 L1444.5 421.6 L1446.1 425.2 L1447.6 427.7 L1449.1 431.7 L1450.6 434.2 L1452.1 437.1 L1453.7 440.5 L1455.2 443.6 L1456.7 447.2 L1458.2 450.1 L1459.7 452.2 L1461.3 454.3 L1462.8 457.4 L1464.3 461.3 L1465.8 465.8 L1467.3 469.6 L1468.9 471.4 L1470.4 473.4 L1471.9 475.3 L1473.4 476 L1475 479.5 L1476.5 483.7 L1478 485.8 L1479.5 487.4 L1481 492 L1482.6 495.4 L1484.1 495.9 L1485.6 501.2 L1487.1 505.3 L1488.6 505.4 L1490.2 508.3 L1491.7 510.3 L1493.2 513.5 L1494.7 515.2 L1496.2 514.9 L1497.8 518.5 L1499.3 521.3 L1500.8 525 L1502.3 526.5 L1503.8 526.7 L1505.4 530.5 L1506.9 533.9 L1508.4 536.6 L1509.9 538.5 L1511.4 541.6 L1513 542.8 L1514.5 542.8 L1516 545.8 L1517.5 547.1 L1519 547.8 L1520.6 549.3 L1522.1 550.6 L1523.6 551.5 L1525.1 553.1 L1526.6 554.2 L1528.2 556.5 L1529.7 557.9 L1531.2 560.9 L1532.7 565.3 L1534.3 565.8 L1535.8 565.5 L1537.3 565.2 L1538.8 567.8 L1540.3 569.8 L1541.9 570.4 L1543.4 570.8 L1544.9 572.5 L1546.4 573.5 L1547.9 573.7 L1549.5 574 L1551 574.3 L1552.5 577.3 L1554 578.4 L1555.5 578.5 L1557.1 580.5 L1558.6 581.6 L1560.1 582.8" fill="none" stroke="#e0157a" stroke-width="2.5" stroke-linejoin="round" stroke-linecap="round" />
</g>
<rect x="953.9" y="8.2" width="608" height="605.6" fill="none" stroke="#000" stroke-width="3" stroke-linejoin="round"/>
<line x1="953.9" y1="48.4" x2="980.9" y2="48.4" stroke="#000" stroke-width="3" stroke-linecap="round"/>
<text x="913.37" y="62.4" font-size="37" fill="#000" >0</text>
<line x1="953.9" y1="183.1" x2="980.9" y2="183.1" stroke="#000" stroke-width="3" stroke-linecap="round"/>
<text x="901.41" y="197.1" font-size="37" fill="#000" >-1</text>
<line x1="953.9" y1="317.8" x2="980.9" y2="317.8" stroke="#000" stroke-width="3" stroke-linecap="round"/>
<text x="901.46" y="331.8" font-size="37" fill="#000" >-2</text>
<line x1="953.9" y1="452.5" x2="980.9" y2="452.5" stroke="#000" stroke-width="3" stroke-linecap="round"/>
<text x="901.23" y="466.5" font-size="37" fill="#000" >-3</text>
<line x1="953.9" y1="587.2" x2="980.9" y2="587.2" stroke="#000" stroke-width="3" stroke-linecap="round"/>
<text x="900.69" y="601.2" font-size="37" fill="#000" >-4</text>
<line x1="953.9" y1="115.75" x2="967.9" y2="115.75" stroke="#000" stroke-width="3" stroke-linecap="round"/>
<line x1="953.9" y1="250.45" x2="967.9" y2="250.45" stroke="#000" stroke-width="3" stroke-linecap="round"/>
<line x1="953.9" y1="385.15" x2="967.9" y2="385.15" stroke="#000" stroke-width="3" stroke-linecap="round"/>
<line x1="953.9" y1="519.85" x2="967.9" y2="519.85" stroke="#000" stroke-width="3" stroke-linecap="round"/>
<line x1="1105.85" y1="613.8" x2="1105.85" y2="586.8" stroke="#000" stroke-width="3" stroke-linecap="round"/>
<line x1="1257.9" y1="613.8" x2="1257.9" y2="586.8" stroke="#000" stroke-width="3" stroke-linecap="round"/>
<line x1="1409.95" y1="613.8" x2="1409.95" y2="586.8" stroke="#000" stroke-width="3" stroke-linecap="round"/>
<line x1="1029.83" y1="613.8" x2="1029.83" y2="599.8" stroke="#000" stroke-width="3" stroke-linecap="round"/>
<line x1="1181.88" y1="613.8" x2="1181.88" y2="599.8" stroke="#000" stroke-width="3" stroke-linecap="round"/>
<line x1="1333.93" y1="613.8" x2="1333.93" y2="599.8" stroke="#000" stroke-width="3" stroke-linecap="round"/>
<line x1="1485.98" y1="613.8" x2="1485.98" y2="599.8" stroke="#000" stroke-width="3" stroke-linecap="round"/>
<text x="932.18" y="655" font-size="37">-1</text>
<text x="1069.37" y="655" font-size="37">-0.5</text>
<text x="1249.11" y="655" font-size="37">0</text>
<text x="1385.79" y="655" font-size="37">0.5</text>
<text x="1552.71" y="655" font-size="37">1</text>
<text x="1218.15" y="701" font-size="36" fill="#000" >B (T)</text>
<text x="1503.33" y="50.2" font-size="35" fill="#000" letter-spacing="2" >(b)</text>
<text x="1574.62" y="83.4" font-size="26" fill="#000" >100 K</text>
<text x="1575.56" y="172.5" font-size="26" fill="#000" >50 K</text>
<text x="1576" y="209.2" font-size="26" fill="#000" >40 K</text>
<text x="1575.61" y="266.1" font-size="26" fill="#000" >30 K</text>
<text x="1575.29" y="361" font-size="26" fill="#000" >20 K</text>
<text x="1574.62" y="518.2" font-size="26" fill="#000" >10 K</text>
<text x="1575.56" y="578.4" font-size="26" fill="#000" >5 K</text>
<text x="1574.62" y="605.6" font-size="26" fill="#e0157a" >1.9 K</text>
<text transform="translate(884.5 445.7) rotate(-90) scale(0.87 1)" fill="#000">
<tspan x="-1" y="0" font-size="33.5">Δ</tspan>
<tspan x="24.74" y="0" font-size="33.5">ρ</tspan>
<tspan x="47.59" y="0" font-size="33.5">/</tspan>
<tspan x="60.71" y="0" font-size="33.5">ρ</tspan>
<tspan x="92.21" y="-14" font-size="27">2</tspan>
<tspan x="115.28" y="0" font-size="33.5">(</tspan>
<tspan x="134.13" y="-1" font-size="25">×</tspan>
<tspan x="147.68" y="0" font-size="33.5">1</tspan>
<tspan x="164.78" y="0" font-size="33.5">0</tspan>
<tspan x="190.06" y="-14" font-size="27">-</tspan>
<tspan x="204.49" y="-14" font-size="27">6</tspan>
<tspan x="231.11" y="0" font-size="33.5">Ω</tspan>
<tspan x="268" y="-14" font-size="27">-</tspan>
<tspan x="281.74" y="-14" font-size="27">1</tspan>
<tspan x="295.21" y="0" font-size="33.5">)</tspan>
</text>
</g>
<g id="pc">
<clipPath id="cc"><rect x="127.9" y="757.7" width="605.9" height="606.3"/></clipPath>
<line x1="159.7" y1="1111.2" x2="159.7" y2="1336" stroke="#7a7a7a" stroke-width="2.7" stroke-dasharray="7.5 7.6"/>
<g clip-path="url(#cc)">
<line x1="122.49" y1="1187.58" x2="744.35" y2="731.84" stroke="#e30b7e" stroke-width="2.8" />
<line x1="122.49" y1="1246.13" x2="744.35" y2="817.67" stroke="#128043" stroke-width="2.8" />
<line x1="122.49" y1="1322.47" x2="744.35" y2="932.65" stroke="#0e8585" stroke-width="2.8" />
<line x1="122.49" y1="1320.06" x2="744.35" y2="1022.05" stroke="#262c7a" stroke-width="2.8" />
</g>
<path d="M179.9 1244.54 L192.4 1256.04 L179.9 1267.54 L167.4 1256.04 Z" fill="#0a8585"/>
<path d="M212.85 1249.86 L225.35 1261.36 L212.85 1272.86 L200.35 1261.36 Z" fill="#0a8585"/>
<path d="M266 1221.87 L278.5 1233.37 L266 1244.87 L253.5 1233.37 Z" fill="#0a8585"/>
<path d="M372.3 1146.3 L384.8 1157.8 L372.3 1169.3 L359.8 1157.8 Z" fill="#0a8585"/>
<path d="M478.6 1100.58 L491.1 1112.08 L478.6 1123.58 L466.1 1112.08 Z" fill="#0a8585"/>
<path d="M584.9 1061.39 L597.4 1072.89 L584.9 1084.39 L572.4 1072.89 Z" fill="#0a8585"/>
<path d="M691.2 953.17 L703.7 964.67 L691.2 976.17 L678.7 964.67 Z" fill="#0a8585"/>
<circle cx="179.9" cy="1274.05" r="9" fill="#2b3990"/>
<circle cx="212.85" cy="1274.05" r="9" fill="#2b3990"/>
<circle cx="266" cy="1267.89" r="9" fill="#2b3990"/>
<circle cx="372.3" cy="1217.51" r="9" fill="#2b3990"/>
<circle cx="478.6" cy="1161.53" r="9" fill="#2b3990"/>
<circle cx="584.9" cy="1073.83" r="9" fill="#2b3990"/>
<circle cx="691.2" cy="1052.37" r="9" fill="#2b3990"/>
<path d="M179.9 1186.89 L170.37 1181.44 L170.37 1170.54 L179.9 1165.09 L189.42 1170.54 L189.42 1181.44 Z" fill="#108043"/>
<path d="M212.85 1186.89 L203.32 1181.44 L203.32 1170.54 L212.85 1165.09 L222.38 1170.54 L222.38 1181.44 Z" fill="#108043"/>
<path d="M266 1160.3 L256.47 1154.85 L256.47 1143.95 L266 1138.5 L275.53 1143.95 L275.53 1154.85 Z" fill="#108043"/>
<path d="M372.3 1089.39 L362.77 1083.94 L362.77 1073.04 L372.3 1067.59 L381.83 1073.04 L381.83 1083.94 Z" fill="#108043"/>
<path d="M478.6 1025.02 L469.07 1019.57 L469.07 1008.66 L478.6 1003.22 L488.13 1008.66 L488.13 1019.57 Z" fill="#108043"/>
<path d="M584.9 957.84 L575.37 952.39 L575.37 941.49 L584.9 936.04 L594.43 941.49 L594.43 952.39 Z" fill="#108043"/>
<path d="M691.2 890.66 L681.67 885.21 L681.67 874.31 L691.2 868.86 L700.73 874.31 L700.73 885.21 Z" fill="#108043"/>
<rect x="171.65" y="1137.42" width="16.5" height="16.5" fill="#e80a7e"/>
<rect x="204.6" y="1120.62" width="16.5" height="16.5" fill="#e80a7e"/>
<rect x="257.75" y="1072.11" width="16.5" height="16.5" fill="#e80a7e"/>
<rect x="364.05" y="976.94" width="16.5" height="16.5" fill="#e80a7e"/>
<rect x="470.35" y="938.69" width="16.5" height="16.5" fill="#e80a7e"/>
<rect x="576.65" y="834.19" width="16.5" height="16.5" fill="#e80a7e"/>
<rect x="127.9" y="757.7" width="605.9" height="606.3" fill="none" stroke="#000" stroke-width="3" stroke-linejoin="round"/>
<line x1="127.9" y1="1336" x2="155.9" y2="1336" stroke="#000" stroke-width="3" stroke-linecap="round"/>
<text x="91.87" y="1350" font-size="37" fill="#000" >0</text>
<line x1="127.9" y1="1149.4" x2="155.9" y2="1149.4" stroke="#000" stroke-width="3" stroke-linecap="round"/>
<text x="92.28" y="1163.4" font-size="37" fill="#000" >2</text>
<line x1="127.9" y1="962.8" x2="155.9" y2="962.8" stroke="#000" stroke-width="3" stroke-linecap="round"/>
<text x="91.51" y="976.8" font-size="37" fill="#000" >4</text>
<line x1="127.9" y1="776.2" x2="155.9" y2="776.2" stroke="#000" stroke-width="3" stroke-linecap="round"/>
<text x="92.05" y="790.2" font-size="37" fill="#000" >6</text>
<line x1="127.9" y1="1242.7" x2="142.4" y2="1242.7" stroke="#000" stroke-width="3" stroke-linecap="round"/>
<line x1="127.9" y1="1056.1" x2="142.4" y2="1056.1" stroke="#000" stroke-width="3" stroke-linecap="round"/>
<line x1="127.9" y1="869.5" x2="142.4" y2="869.5" stroke="#000" stroke-width="3" stroke-linecap="round"/>
<line x1="159.7" y1="1364" x2="159.7" y2="1337.5" stroke="#000" stroke-width="3" stroke-linecap="round"/>
<text x="150.91" y="1408.5" font-size="37" fill="#000" >0</text>
<line x1="266" y1="1364" x2="266" y2="1337.5" stroke="#000" stroke-width="3" stroke-linecap="round"/>
<text x="246.24" y="1408.5" font-size="37" fill="#000" >10</text>
<line x1="372.3" y1="1364" x2="372.3" y2="1337.5" stroke="#000" stroke-width="3" stroke-linecap="round"/>
<text x="353.01" y="1408.5" font-size="37" fill="#000" >20</text>
<line x1="478.6" y1="1364" x2="478.6" y2="1337.5" stroke="#000" stroke-width="3" stroke-linecap="round"/>
<text x="459.54" y="1408.5" font-size="37" fill="#000" >30</text>
<line x1="584.9" y1="1364" x2="584.9" y2="1337.5" stroke="#000" stroke-width="3" stroke-linecap="round"/>
<text x="566.12" y="1408.5" font-size="37" fill="#000" >40</text>
<line x1="691.2" y1="1364" x2="691.2" y2="1337.5" stroke="#000" stroke-width="3" stroke-linecap="round"/>
<text x="672.1" y="1408.5" font-size="37" fill="#000" >50</text>
<line x1="212.85" y1="1364" x2="212.85" y2="1350.5" stroke="#000" stroke-width="3" stroke-linecap="round"/>
<line x1="319.15" y1="1364" x2="319.15" y2="1350.5" stroke="#000" stroke-width="3" stroke-linecap="round"/>
<line x1="425.45" y1="1364" x2="425.45" y2="1350.5" stroke="#000" stroke-width="3" stroke-linecap="round"/>
<line x1="531.75" y1="1364" x2="531.75" y2="1350.5" stroke="#000" stroke-width="3" stroke-linecap="round"/>
<line x1="638.05" y1="1364" x2="638.05" y2="1350.5" stroke="#000" stroke-width="3" stroke-linecap="round"/>
<text x="399.79" y="1451.2" font-size="36" fill="#000" >T (K)</text>
<text x="150.23" y="808.3" font-size="35" fill="#000" letter-spacing="2" >(c)</text>
<text x="607.59" y="863.8" font-size="34" fill="#e1127c" >-7 V</text>
<text x="607.59" y="945.8" font-size="34" fill="#157a3c" >-2 V</text>
<text x="618.92" y="1044.7" font-size="34" fill="#0b7f80" >2 V</text>
<text x="618.92" y="1133.5" font-size="34" fill="#282b66" >4 V</text>
<text transform="translate(57.5 1143.7) rotate(-90) scale(0.87 1)" fill="#000">
<tspan x="-2.55" y="0" font-size="33.5">1</tspan>
<tspan x="20.34" y="0" font-size="33.5">/</tspan>
<tspan x="37.46" y="0" font-size="33.5">τ</tspan>
<tspan x="51.11" y="3.5" font-size="23">φ</tspan>
<tspan x="94.13" y="0" font-size="33.5">(</tspan>
<tspan x="117.5" y="0" font-size="33.5">p</tspan>
<tspan x="138.95" y="0" font-size="33.5">s</tspan>
<tspan x="160.91" y="-14" font-size="26">-</tspan>
<tspan x="168.13" y="-14" font-size="26">1</tspan>
<tspan x="195.78" y="0" font-size="33.5">)</tspan>
</text>
</g>
<g id="pd">
<defs>
<radialGradient id="gn" cx="0.45" cy="0.45" r="0.58" fx="0.34" fy="0.31"><stop offset="0" stop-color="#ffffff"/><stop offset="0.1" stop-color="#dcdcff"/><stop offset="0.3" stop-color="#5a62a8"/><stop offset="0.62" stop-color="#2c3170"/><stop offset="1" stop-color="#1b1e4c"/></radialGradient>
<radialGradient id="gm" cx="0.45" cy="0.45" r="0.58" fx="0.34" fy="0.31"><stop offset="0" stop-color="#ffffff"/><stop offset="0.1" stop-color="#ffd6ea"/><stop offset="0.3" stop-color="#f2509d"/><stop offset="0.62" stop-color="#e6107b"/><stop offset="1" stop-color="#c20a66"/></radialGradient>
<radialGradient id="gg" cx="0.45" cy="0.45" r="0.58" fx="0.34" fy="0.31"><stop offset="0" stop-color="#ffffff"/><stop offset="0.1" stop-color="#ececec"/><stop offset="0.3" stop-color="#a8a8a8"/><stop offset="0.62" stop-color="#7c7c7c"/><stop offset="1" stop-color="#5c5c5c"/></radialGradient>
</defs>
<path d="M1010.95 1275.12 C1017.27 1275.33 1036.25 1275.58 1048.9 1276.38 C1061.55 1277.18 1074.2 1280.55 1086.85 1279.92 C1099.5 1279.29 1112.15 1272.76 1124.8 1272.6 C1137.45 1272.43 1150.1 1278.11 1162.75 1278.91 C1175.4 1279.71 1191.21 1276.8 1200.7 1277.39 C1210.19 1277.98 1213.35 1280.76 1219.67 1282.44 C1226 1284.13 1229.16 1290.4 1238.65 1287.49 C1248.14 1284.59 1263.95 1267.67 1276.6 1265.02 C1289.25 1262.37 1301.9 1269.1 1314.55 1271.59 C1327.2 1274.07 1339.85 1278.28 1352.5 1279.92 C1365.15 1281.56 1377.8 1280.42 1390.45 1281.43 C1403.1 1282.44 1415.75 1284.13 1428.4 1285.98 C1441.05 1287.83 1453.7 1295.36 1466.35 1292.54 C1479 1289.72 1497.97 1272.97 1504.3 1269.06" fill="none" stroke="#6e6e6e" stroke-width="2.5" stroke-dasharray="4.5 4.5"/>
<circle cx="1010.95" cy="1275.12" r="9.5" fill="url(#gg)"/>
<circle cx="1048.9" cy="1276.38" r="9.5" fill="url(#gg)"/>
<circle cx="1086.85" cy="1279.92" r="9.5" fill="url(#gg)"/>
<circle cx="1124.8" cy="1272.6" r="9.5" fill="url(#gg)"/>
<circle cx="1162.75" cy="1278.91" r="9.5" fill="url(#gg)"/>
<circle cx="1200.7" cy="1277.39" r="9.5" fill="url(#gg)"/>
<circle cx="1219.67" cy="1282.44" r="9.5" fill="url(#gg)"/>
<circle cx="1238.65" cy="1287.49" r="9.5" fill="url(#gg)"/>
<circle cx="1276.6" cy="1265.02" r="9.5" fill="url(#gg)"/>
<circle cx="1314.55" cy="1271.59" r="9.5" fill="url(#gg)"/>
<circle cx="1352.5" cy="1279.92" r="9.5" fill="url(#gg)"/>
<circle cx="1390.45" cy="1281.43" r="9.5" fill="url(#gg)"/>
<circle cx="1428.4" cy="1285.98" r="9.5" fill="url(#gg)"/>
<circle cx="1466.35" cy="1292.54" r="9.5" fill="url(#gg)"/>
<circle cx="1504.3" cy="1269.06" r="9.5" fill="url(#gg)"/>
<path d="M1010.95 839.05 C1017.27 839.64 1036.25 840.78 1048.9 842.59 C1061.55 844.4 1074.2 844.78 1086.85 849.91 C1099.5 855.04 1112.15 861.95 1124.8 873.39 C1137.45 884.84 1150.1 897.34 1162.75 918.59 C1175.4 939.84 1191.21 986.68 1200.7 1000.9 C1210.19 1015.13 1213.35 975.49 1219.67 1003.93 C1226 1032.38 1229.16 1132.25 1238.65 1171.6 C1248.14 1210.94 1263.95 1236.28 1276.6 1240.02 C1289.25 1243.77 1301.9 1199.08 1314.55 1194.07 C1327.2 1189.06 1339.85 1205.89 1352.5 1209.97 C1365.15 1214.06 1377.8 1212.46 1390.45 1218.56 C1403.1 1224.66 1415.75 1239.01 1428.4 1246.59 C1441.05 1254.16 1453.7 1269.86 1466.35 1264.01 C1479 1258.16 1497.97 1220.24 1504.3 1211.49" fill="none" stroke="#e0157a" stroke-width="2.3" stroke-dasharray="3.8 4"/>
<circle cx="1010.95" cy="839.05" r="9.5" fill="url(#gm)"/>
<circle cx="1048.9" cy="842.59" r="9.5" fill="url(#gm)"/>
<circle cx="1086.85" cy="849.91" r="9.5" fill="url(#gm)"/>
<circle cx="1124.8" cy="873.39" r="9.5" fill="url(#gm)"/>
<circle cx="1162.75" cy="918.59" r="9.5" fill="url(#gm)"/>
<circle cx="1200.7" cy="1000.9" r="9.5" fill="url(#gm)"/>
<circle cx="1219.67" cy="1003.93" r="9.5" fill="url(#gm)"/>
<circle cx="1238.65" cy="1171.6" r="9.5" fill="url(#gm)"/>
<circle cx="1276.6" cy="1240.02" r="9.5" fill="url(#gm)"/>
<circle cx="1314.55" cy="1194.07" r="9.5" fill="url(#gm)"/>
<circle cx="1352.5" cy="1209.97" r="9.5" fill="url(#gm)"/>
<circle cx="1390.45" cy="1218.56" r="9.5" fill="url(#gm)"/>
<circle cx="1428.4" cy="1246.59" r="9.5" fill="url(#gm)"/>
<circle cx="1466.35" cy="1264.01" r="9.5" fill="url(#gm)"/>
<circle cx="1504.3" cy="1211.49" r="9.5" fill="url(#gm)"/>
<path d="M1010.95 798.4 C1017.27 801.6 1036.25 816.66 1048.9 817.59 C1061.55 818.52 1074.2 801.64 1086.85 803.96 C1099.5 806.27 1112.15 823.82 1124.8 831.48 C1137.45 839.14 1150.1 842.25 1162.75 849.91 C1175.4 857.57 1191.21 868.93 1200.7 877.43 C1210.19 885.93 1213.35 879.41 1219.67 900.91 C1226 922.42 1229.16 973.59 1238.65 1006.46 C1248.14 1039.33 1263.95 1092.1 1276.6 1098.12 C1289.25 1104.14 1301.9 1042.27 1314.55 1042.57 C1327.2 1042.86 1339.85 1097.07 1352.5 1099.88 C1365.15 1102.7 1377.8 1051.78 1390.45 1059.48 C1403.1 1067.19 1415.75 1134.1 1428.4 1146.09 C1441.05 1158.09 1453.7 1136.79 1466.35 1131.45 C1479 1126.1 1497.97 1116.93 1504.3 1114.03" fill="none" stroke="#1e2150" stroke-width="2.8" stroke-dasharray="4.5 3.8"/>
<circle cx="1010.95" cy="798.4" r="9.5" fill="url(#gn)"/>
<circle cx="1048.9" cy="817.59" r="9.5" fill="url(#gn)"/>
<circle cx="1086.85" cy="803.96" r="9.5" fill="url(#gn)"/>
<circle cx="1124.8" cy="831.48" r="9.5" fill="url(#gn)"/>
<circle cx="1162.75" cy="849.91" r="9.5" fill="url(#gn)"/>
<circle cx="1200.7" cy="877.43" r="9.5" fill="url(#gn)"/>
<circle cx="1219.67" cy="900.91" r="9.5" fill="url(#gn)"/>
<circle cx="1238.65" cy="1006.46" r="9.5" fill="url(#gn)"/>
<circle cx="1276.6" cy="1098.12" r="9.5" fill="url(#gn)"/>
<circle cx="1314.55" cy="1042.57" r="9.5" fill="url(#gn)"/>
<circle cx="1352.5" cy="1099.88" r="9.5" fill="url(#gn)"/>
<circle cx="1390.45" cy="1059.48" r="9.5" fill="url(#gn)"/>
<circle cx="1428.4" cy="1146.09" r="9.5" fill="url(#gn)"/>
<circle cx="1466.35" cy="1131.45" r="9.5" fill="url(#gn)"/>
<circle cx="1504.3" cy="1114.03" r="9.5" fill="url(#gn)"/>
<rect x="954.4" y="757.5" width="605.8" height="606.5" fill="none" stroke="#000" stroke-width="3" stroke-linejoin="round"/>
<line x1="954.4" y1="1313.5" x2="980.9" y2="1313.5" stroke="#000" stroke-width="3" stroke-linecap="round"/>
<text x="914.37" y="1328" font-size="37" fill="#000" >0</text>
<line x1="954.4" y1="1187.25" x2="980.9" y2="1187.25" stroke="#000" stroke-width="3" stroke-linecap="round"/>
<text x="883.62" y="1201.75" font-size="37" fill="#000" >0.5</text>
<line x1="954.4" y1="1061" x2="980.9" y2="1061" stroke="#000" stroke-width="3" stroke-linecap="round"/>
<text x="883.51" y="1075.5" font-size="37" fill="#000" >1.0</text>
<line x1="954.4" y1="934.75" x2="980.9" y2="934.75" stroke="#000" stroke-width="3" stroke-linecap="round"/>
<text x="883.62" y="949.25" font-size="37" fill="#000" >1.5</text>
<line x1="954.4" y1="808.5" x2="980.9" y2="808.5" stroke="#000" stroke-width="3" stroke-linecap="round"/>
<text x="883.51" y="823" font-size="37" fill="#000" >2.0</text>
<line x1="954.4" y1="1250.38" x2="968.4" y2="1250.38" stroke="#000" stroke-width="3" stroke-linecap="round"/>
<line x1="954.4" y1="1124.12" x2="968.4" y2="1124.12" stroke="#000" stroke-width="3" stroke-linecap="round"/>
<line x1="954.4" y1="997.88" x2="968.4" y2="997.88" stroke="#000" stroke-width="3" stroke-linecap="round"/>
<line x1="954.4" y1="871.62" x2="968.4" y2="871.62" stroke="#000" stroke-width="3" stroke-linecap="round"/>
<line x1="1048.9" y1="1364" x2="1048.9" y2="1339" stroke="#000" stroke-width="3" stroke-linecap="round"/>
<text x="1028.16" y="1409.5" font-size="37">-6</text>
<line x1="1162.75" y1="1364" x2="1162.75" y2="1339" stroke="#000" stroke-width="3" stroke-linecap="round"/>
<text x="1142.25" y="1409.5" font-size="37">-3</text>
<line x1="1276.6" y1="1364" x2="1276.6" y2="1339" stroke="#000" stroke-width="3" stroke-linecap="round"/>
<text x="1268.31" y="1409.5" font-size="37">0</text>
<line x1="1390.45" y1="1364" x2="1390.45" y2="1339" stroke="#000" stroke-width="3" stroke-linecap="round"/>
<text x="1382.27" y="1409.5" font-size="37">3</text>
<line x1="1504.3" y1="1364" x2="1504.3" y2="1339" stroke="#000" stroke-width="3" stroke-linecap="round"/>
<text x="1495.88" y="1409.5" font-size="37">6</text>
<line x1="991.97" y1="1364" x2="991.97" y2="1350" stroke="#000" stroke-width="3" stroke-linecap="round"/>
<line x1="1105.82" y1="1364" x2="1105.82" y2="1350" stroke="#000" stroke-width="3" stroke-linecap="round"/>
<line x1="1219.67" y1="1364" x2="1219.67" y2="1350" stroke="#000" stroke-width="3" stroke-linecap="round"/>
<line x1="1333.52" y1="1364" x2="1333.52" y2="1350" stroke="#000" stroke-width="3" stroke-linecap="round"/>
<line x1="1447.38" y1="1364" x2="1447.38" y2="1350" stroke="#000" stroke-width="3" stroke-linecap="round"/>
<text fill="#000">
<tspan x="1234.05" y="1453.7" font-size="34.5">V</tspan>
<tspan x="1251.76" y="1462" font-size="24.6">G</tspan>
<tspan x="1274.46" y="1453.7" font-size="34.5">(</tspan>
<tspan x="1288.35" y="1453.7" font-size="34.5">V</tspan>
<tspan x="1316.3" y="1453.7" font-size="34.5">)</tspan>
</text>
<text x="1501.83" y="798.3" font-size="35" fill="#000" letter-spacing="2" >(d)</text>
<text fill="#1e2150">
<tspan x="1477.87" y="1095.7" font-size="34.5">1</tspan>
<tspan x="1498" y="1095.7" font-size="34.5">/</tspan>
<tspan x="1511.51" y="1095.7" font-size="34.5">τ</tspan>
<tspan x="1522.49" y="1099.8" font-size="22">φ</tspan>
</text>
<text fill="#e0157a">
<tspan x="1477.87" y="1188.7" font-size="34.5">1</tspan>
<tspan x="1498" y="1188.7" font-size="34.5">/</tspan>
<tspan x="1511.51" y="1188.7" font-size="34.5">τ</tspan>
<tspan x="1522.95" y="1191.8" font-size="25">o</tspan>
</text>
<text fill="#7a7a7a">
<tspan x="1005.17" y="1254.4" font-size="34.5">1</tspan>
<tspan x="1025.6" y="1254.4" font-size="34.5">/</tspan>
<tspan x="1037.51" y="1254.4" font-size="34.5">τ</tspan>
<tspan x="1053.9" y="1259.3" font-size="26">ee</tspan>
</text>
<text transform="translate(860 1130.3) rotate(-90) scale(0.87 1)" fill="#000">
<tspan x="-2.55" y="0" font-size="33.5">1</tspan>
<tspan x="20.34" y="0" font-size="33.5">/</tspan>
<tspan x="33.2" y="0" font-size="33.5">τ</tspan>
<tspan x="71.14" y="0" font-size="33.5">(</tspan>
<tspan x="94.97" y="0" font-size="33.5">p</tspan>
<tspan x="120.1" y="0" font-size="33.5">s</tspan>
<tspan x="138.27" y="-14" font-size="26">-</tspan>
<tspan x="145.72" y="-14" font-size="26">1</tspan>
<tspan x="171.64" y="0" font-size="33.5">)</tspan>
</text>
</g>
</svg></body></html>
